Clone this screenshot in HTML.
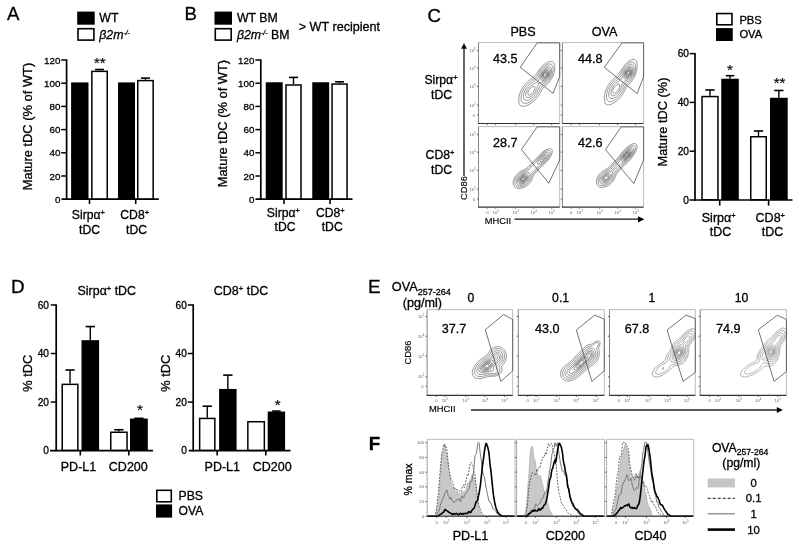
<!DOCTYPE html>
<html><head><meta charset="utf-8"><style>html,body{margin:0;padding:0;background:#fff;width:800px;height:547px;overflow:hidden;position:relative}</style></head>
<body>
<svg width="800" height="547" viewBox="0 0 800 547" style="will-change:transform;position:absolute;left:0;top:0;font-family:&quot;Liberation Sans&quot;, sans-serif">
<rect width="800" height="547" fill="#fff"/>
<text x="7" y="20.4" font-size="18.6" fill="#000" stroke="#000" stroke-width="0.3">A</text>
<rect x="77.20" y="11.60" width="17.50" height="13.10" fill="#000"/>
<rect x="78.00" y="28.70" width="15.90" height="11.40" fill="#fff" stroke="#000" stroke-width="1.6"/>
<text x="99.3" y="21.7" font-size="12.3" fill="#000" stroke="#000" stroke-width="0.3">WT</text>
<text x="99.3" y="38.7" font-size="12.3" fill="#000" stroke="#000" stroke-width="0.3"><tspan font-style="italic">β2m<tspan baseline-shift="4.2" font-size="6.8">-/-</tspan></tspan></text>
<line x1="66.60" y1="59.40" x2="66.60" y2="200.05" stroke="#000" stroke-width="1.7" />
<line x1="61.50" y1="199.20" x2="158.80" y2="199.20" stroke="#000" stroke-width="1.7" />
<text x="60.4" y="202.71" font-size="9.8" text-anchor="end" fill="#000" stroke="#000" stroke-width="0.3">0</text>
<line x1="61.20" y1="176.00" x2="66.60" y2="176.00" stroke="#000" stroke-width="1.5" />
<text x="60.4" y="179.51" font-size="9.8" text-anchor="end" fill="#000" stroke="#000" stroke-width="0.3">20</text>
<line x1="61.20" y1="152.80" x2="66.60" y2="152.80" stroke="#000" stroke-width="1.5" />
<text x="60.4" y="156.31" font-size="9.8" text-anchor="end" fill="#000" stroke="#000" stroke-width="0.3">40</text>
<line x1="61.20" y1="129.60" x2="66.60" y2="129.60" stroke="#000" stroke-width="1.5" />
<text x="60.4" y="133.11" font-size="9.8" text-anchor="end" fill="#000" stroke="#000" stroke-width="0.3">60</text>
<line x1="61.20" y1="106.40" x2="66.60" y2="106.40" stroke="#000" stroke-width="1.5" />
<text x="60.4" y="109.91" font-size="9.8" text-anchor="end" fill="#000" stroke="#000" stroke-width="0.3">80</text>
<line x1="61.20" y1="83.20" x2="66.60" y2="83.20" stroke="#000" stroke-width="1.5" />
<text x="60.4" y="86.71" font-size="9.8" text-anchor="end" fill="#000" stroke="#000" stroke-width="0.3">100</text>
<line x1="61.20" y1="60.00" x2="66.60" y2="60.00" stroke="#000" stroke-width="1.5" />
<text x="60.4" y="63.51" font-size="9.8" text-anchor="end" fill="#000" stroke="#000" stroke-width="0.3">120</text>
<rect x="71.10" y="82.39" width="17.40" height="116.81" fill="#000"/>
<rect x="91.85" y="71.35" width="15.40" height="127.60" fill="#fff" stroke="#000" stroke-width="1.5"/>
<line x1="99.55" y1="70.60" x2="99.55" y2="69.51" stroke="#000" stroke-width="1.4" />
<line x1="95.05" y1="69.51" x2="104.05" y2="69.51" stroke="#000" stroke-width="1.6" />
<rect x="118.00" y="82.39" width="17.00" height="116.81" fill="#000"/>
<rect x="137.75" y="80.59" width="15.40" height="118.36" fill="#fff" stroke="#000" stroke-width="1.5"/>
<line x1="145.45" y1="79.84" x2="145.45" y2="78.10" stroke="#000" stroke-width="1.4" />
<line x1="140.95" y1="78.10" x2="149.95" y2="78.10" stroke="#000" stroke-width="1.6" />
<line x1="89.50" y1="199.20" x2="89.50" y2="204.00" stroke="#000" stroke-width="1.6" />
<line x1="135.70" y1="199.20" x2="135.70" y2="204.00" stroke="#000" stroke-width="1.6" />
<text x="99.8" y="67.6" font-size="15" text-anchor="middle" fill="#000" stroke="#000" stroke-width="0.15">**</text>
<text x="31.6" y="126.5" font-size="12.9" text-anchor="middle" fill="#000" stroke="#000" stroke-width="0.3" transform="rotate(-90 31.6 126.5)">Mature tDC (% of WT)</text>
<text x="88.4" y="219" font-size="12.2" text-anchor="middle" fill="#000" stroke="#000" stroke-width="0.3">Sirpα<tspan baseline-shift="4.2" font-size="7.5">+</tspan></text>
<text x="89.6" y="233.75" font-size="12.2" text-anchor="middle" fill="#000" stroke="#000" stroke-width="0.3">tDC</text>
<text x="134.7" y="219" font-size="12.2" text-anchor="middle" fill="#000" stroke="#000" stroke-width="0.3">CD8<tspan baseline-shift="4.2" font-size="7.5">+</tspan></text>
<text x="136.5" y="233.75" font-size="12.2" text-anchor="middle" fill="#000" stroke="#000" stroke-width="0.3">tDC</text>
<text x="184.5" y="20.3" font-size="18.6" fill="#000" stroke="#000" stroke-width="0.3">B</text>
<rect x="214.50" y="11.60" width="17.50" height="13.10" fill="#000"/>
<rect x="215.30" y="28.70" width="15.90" height="11.40" fill="#fff" stroke="#000" stroke-width="1.6"/>
<text x="237" y="21.7" font-size="12.3" fill="#000" stroke="#000" stroke-width="0.3">WT BM</text>
<text x="237" y="38.7" font-size="12.3" fill="#000" stroke="#000" stroke-width="0.3"><tspan font-style="italic">β2m<tspan baseline-shift="4.2" font-size="6.8">-/-</tspan></tspan> BM</text>
<text x="298.75" y="31.3" font-size="12.6" fill="#000" stroke="#000" stroke-width="0.3">&gt; WT recipient</text>
<line x1="260.80" y1="59.40" x2="260.80" y2="200.05" stroke="#000" stroke-width="1.7" />
<line x1="255.50" y1="199.20" x2="352.50" y2="199.20" stroke="#000" stroke-width="1.7" />
<text x="254.4" y="202.71" font-size="9.8" text-anchor="end" fill="#000" stroke="#000" stroke-width="0.3">0</text>
<line x1="255.40" y1="176.00" x2="260.80" y2="176.00" stroke="#000" stroke-width="1.5" />
<text x="254.4" y="179.51" font-size="9.8" text-anchor="end" fill="#000" stroke="#000" stroke-width="0.3">20</text>
<line x1="255.40" y1="152.80" x2="260.80" y2="152.80" stroke="#000" stroke-width="1.5" />
<text x="254.4" y="156.31" font-size="9.8" text-anchor="end" fill="#000" stroke="#000" stroke-width="0.3">40</text>
<line x1="255.40" y1="129.60" x2="260.80" y2="129.60" stroke="#000" stroke-width="1.5" />
<text x="254.4" y="133.11" font-size="9.8" text-anchor="end" fill="#000" stroke="#000" stroke-width="0.3">60</text>
<line x1="255.40" y1="106.40" x2="260.80" y2="106.40" stroke="#000" stroke-width="1.5" />
<text x="254.4" y="109.91" font-size="9.8" text-anchor="end" fill="#000" stroke="#000" stroke-width="0.3">80</text>
<line x1="255.40" y1="83.20" x2="260.80" y2="83.20" stroke="#000" stroke-width="1.5" />
<text x="254.4" y="86.71" font-size="9.8" text-anchor="end" fill="#000" stroke="#000" stroke-width="0.3">100</text>
<line x1="255.40" y1="60.00" x2="260.80" y2="60.00" stroke="#000" stroke-width="1.5" />
<text x="254.4" y="63.51" font-size="9.8" text-anchor="end" fill="#000" stroke="#000" stroke-width="0.3">120</text>
<rect x="265.75" y="82.27" width="16.95" height="116.93" fill="#000"/>
<rect x="286.00" y="84.99" width="15.00" height="113.96" fill="#fff" stroke="#000" stroke-width="1.5"/>
<line x1="293.50" y1="84.24" x2="293.50" y2="77.40" stroke="#000" stroke-width="1.4" />
<line x1="289.00" y1="77.40" x2="298.00" y2="77.40" stroke="#000" stroke-width="1.6" />
<rect x="312.25" y="82.27" width="16.95" height="116.93" fill="#000"/>
<rect x="332.05" y="84.07" width="15.00" height="114.88" fill="#fff" stroke="#000" stroke-width="1.5"/>
<line x1="339.55" y1="83.32" x2="339.55" y2="81.81" stroke="#000" stroke-width="1.4" />
<line x1="335.05" y1="81.81" x2="344.05" y2="81.81" stroke="#000" stroke-width="1.6" />
<line x1="284.00" y1="199.20" x2="284.00" y2="204.00" stroke="#000" stroke-width="1.6" />
<line x1="330.00" y1="199.20" x2="330.00" y2="204.00" stroke="#000" stroke-width="1.6" />
<text x="226.9" y="123.6" font-size="12.9" text-anchor="middle" fill="#000" stroke="#000" stroke-width="0.3" transform="rotate(-90 226.9 123.6)">Mature tDC (% of WT)</text>
<text x="283.4" y="216.9" font-size="12.2" text-anchor="middle" fill="#000" stroke="#000" stroke-width="0.3">Sirpα<tspan baseline-shift="4.2" font-size="7.5">+</tspan></text>
<text x="285" y="231.25" font-size="12.2" text-anchor="middle" fill="#000" stroke="#000" stroke-width="0.3">tDC</text>
<text x="330.3" y="216.9" font-size="12.2" text-anchor="middle" fill="#000" stroke="#000" stroke-width="0.3">CD8<tspan baseline-shift="4.2" font-size="7.5">+</tspan></text>
<text x="332.2" y="231.25" font-size="12.2" text-anchor="middle" fill="#000" stroke="#000" stroke-width="0.3">tDC</text>
<text x="427.5" y="22" font-size="18.6" fill="#000" stroke="#000" stroke-width="0.3">C</text>
<rect x="716.80" y="13.55" width="15.15" height="11.25" fill="#fff" stroke="#000" stroke-width="1.6"/>
<rect x="716.00" y="28.10" width="16.75" height="12.90" fill="#000"/>
<text x="739.4" y="23.8" font-size="11.2" fill="#000" stroke="#000" stroke-width="0.3">PBS</text>
<text x="739.4" y="38.2" font-size="11.2" fill="#000" stroke="#000" stroke-width="0.3">OVA</text>
<line x1="695.00" y1="53.00" x2="695.00" y2="200.85" stroke="#000" stroke-width="1.7" />
<line x1="689.50" y1="200.00" x2="792.50" y2="200.00" stroke="#000" stroke-width="1.7" />
<text x="689" y="203.65" font-size="10.2" text-anchor="end" fill="#000" stroke="#000" stroke-width="0.3">0</text>
<line x1="689.60" y1="151.20" x2="695.00" y2="151.20" stroke="#000" stroke-width="1.5" />
<text x="689" y="154.85" font-size="10.2" text-anchor="end" fill="#000" stroke="#000" stroke-width="0.3">20</text>
<line x1="689.60" y1="102.40" x2="695.00" y2="102.40" stroke="#000" stroke-width="1.5" />
<text x="689" y="106.05" font-size="10.2" text-anchor="end" fill="#000" stroke="#000" stroke-width="0.3">40</text>
<line x1="689.60" y1="53.60" x2="695.00" y2="53.60" stroke="#000" stroke-width="1.5" />
<text x="689" y="57.25" font-size="10.2" text-anchor="end" fill="#000" stroke="#000" stroke-width="0.3">60</text>
<rect x="702.05" y="96.56" width="15.90" height="103.19" fill="#fff" stroke="#000" stroke-width="1.5"/>
<line x1="710.00" y1="95.81" x2="710.00" y2="90.00" stroke="#000" stroke-width="1.4" />
<line x1="705.35" y1="90.00" x2="714.65" y2="90.00" stroke="#000" stroke-width="1.6" />
<rect x="721.25" y="78.71" width="17.55" height="121.29" fill="#000"/>
<line x1="730.02" y1="78.71" x2="730.02" y2="75.71" stroke="#000" stroke-width="1.4" />
<line x1="725.77" y1="75.71" x2="734.27" y2="75.71" stroke="#000" stroke-width="1.6" />
<rect x="750.75" y="136.75" width="15.50" height="63.00" fill="#fff" stroke="#000" stroke-width="1.5"/>
<line x1="758.50" y1="136.00" x2="758.50" y2="131.00" stroke="#000" stroke-width="1.4" />
<line x1="753.85" y1="131.00" x2="763.15" y2="131.00" stroke="#000" stroke-width="1.6" />
<rect x="770.00" y="97.76" width="17.70" height="102.24" fill="#000"/>
<line x1="778.85" y1="97.76" x2="778.85" y2="90.49" stroke="#000" stroke-width="1.4" />
<line x1="774.20" y1="90.49" x2="783.50" y2="90.49" stroke="#000" stroke-width="1.6" />
<line x1="719.70" y1="200.00" x2="719.70" y2="205.60" stroke="#000" stroke-width="1.6" />
<line x1="768.60" y1="200.00" x2="768.60" y2="205.60" stroke="#000" stroke-width="1.6" />
<text x="730" y="74.8" font-size="15" text-anchor="middle" fill="#000" stroke="#000" stroke-width="0.15">*</text>
<text x="779.5" y="88.4" font-size="15" text-anchor="middle" fill="#000" stroke="#000" stroke-width="0.15">**</text>
<text x="667.1" y="122" font-size="12.8" text-anchor="middle" fill="#000" stroke="#000" stroke-width="0.3" transform="rotate(-90 667.1 122)">Mature tDC (%)</text>
<text x="718.7" y="222" font-size="12.5" text-anchor="middle" fill="#000" stroke="#000" stroke-width="0.3">Sirpα<tspan baseline-shift="4.2" font-size="7.5">+</tspan></text>
<text x="720.5" y="236.3" font-size="12.4" text-anchor="middle" fill="#000" stroke="#000" stroke-width="0.3">tDC</text>
<text x="770.3" y="222" font-size="12.5" text-anchor="middle" fill="#000" stroke="#000" stroke-width="0.3">CD8<tspan baseline-shift="4.2" font-size="7.5">+</tspan></text>
<text x="772.5" y="236.3" font-size="12.4" text-anchor="middle" fill="#000" stroke="#000" stroke-width="0.3">tDC</text>
<text x="11" y="292.5" font-size="18.8" fill="#000" stroke="#000" stroke-width="0.3">D</text>
<text x="106.8" y="294.5" font-size="12.4" text-anchor="middle" fill="#000" stroke="#000" stroke-width="0.3">Sirpα<tspan baseline-shift="4.2" font-size="7.5">+</tspan> tDC</text>
<line x1="56.20" y1="304.38" x2="56.20" y2="451.45" stroke="#000" stroke-width="1.7" />
<line x1="50.00" y1="450.60" x2="153.00" y2="450.60" stroke="#000" stroke-width="1.7" />
<text x="49" y="454.25" font-size="10.2" text-anchor="end" fill="#000" stroke="#000" stroke-width="0.3">0</text>
<line x1="50.80" y1="402.06" x2="56.20" y2="402.06" stroke="#000" stroke-width="1.5" />
<text x="49" y="405.71" font-size="10.2" text-anchor="end" fill="#000" stroke="#000" stroke-width="0.3">20</text>
<line x1="50.80" y1="353.52" x2="56.20" y2="353.52" stroke="#000" stroke-width="1.5" />
<text x="49" y="357.17" font-size="10.2" text-anchor="end" fill="#000" stroke="#000" stroke-width="0.3">40</text>
<line x1="50.80" y1="304.98" x2="56.20" y2="304.98" stroke="#000" stroke-width="1.5" />
<text x="49" y="308.63" font-size="10.2" text-anchor="end" fill="#000" stroke="#000" stroke-width="0.3">60</text>
<rect x="62.25" y="384.36" width="15.60" height="65.99" fill="#fff" stroke="#000" stroke-width="1.5"/>
<line x1="70.05" y1="383.61" x2="70.05" y2="370.02" stroke="#000" stroke-width="1.4" />
<line x1="65.40" y1="370.02" x2="74.70" y2="370.02" stroke="#000" stroke-width="1.6" />
<rect x="81.50" y="340.17" width="17.60" height="110.43" fill="#000"/>
<line x1="90.30" y1="340.17" x2="90.30" y2="326.58" stroke="#000" stroke-width="1.4" />
<line x1="85.65" y1="326.58" x2="94.95" y2="326.58" stroke="#000" stroke-width="1.6" />
<rect x="110.75" y="432.25" width="16.30" height="18.10" fill="#fff" stroke="#000" stroke-width="1.5"/>
<line x1="118.90" y1="431.50" x2="118.90" y2="429.73" stroke="#000" stroke-width="1.4" />
<line x1="114.25" y1="429.73" x2="123.55" y2="429.73" stroke="#000" stroke-width="1.6" />
<rect x="130.00" y="418.56" width="17.80" height="32.04" fill="#000"/>
<line x1="138.90" y1="418.56" x2="138.90" y2="418.32" stroke="#000" stroke-width="1.4" />
<line x1="134.25" y1="418.32" x2="143.55" y2="418.32" stroke="#000" stroke-width="1.6" />
<line x1="80.30" y1="450.60" x2="80.30" y2="455.50" stroke="#000" stroke-width="1.6" />
<line x1="128.80" y1="450.60" x2="128.80" y2="455.50" stroke="#000" stroke-width="1.6" />
<text x="139.9" y="414.8" font-size="15" text-anchor="middle" fill="#000" stroke="#000" stroke-width="0.15">*</text>
<text x="31.8" y="373.3" font-size="12.8" text-anchor="middle" fill="#000" stroke="#000" stroke-width="0.3" transform="rotate(-90 31.8 373.3)">% tDC</text>
<text x="78.5" y="471" font-size="12.5" text-anchor="middle" fill="#000" stroke="#000" stroke-width="0.3">PD-L1</text>
<text x="128.3" y="471" font-size="12.5" text-anchor="middle" fill="#000" stroke="#000" stroke-width="0.3">CD200</text>
<text x="241" y="294.5" font-size="12.5" text-anchor="middle" fill="#000" stroke="#000" stroke-width="0.3">CD8<tspan baseline-shift="4.2" font-size="7.5">+</tspan> tDC</text>
<line x1="193.20" y1="304.38" x2="193.20" y2="451.45" stroke="#000" stroke-width="1.7" />
<line x1="188.75" y1="450.60" x2="290.50" y2="450.60" stroke="#000" stroke-width="1.7" />
<text x="186.9" y="454.25" font-size="10.2" text-anchor="end" fill="#000" stroke="#000" stroke-width="0.3">0</text>
<line x1="187.80" y1="402.06" x2="193.20" y2="402.06" stroke="#000" stroke-width="1.5" />
<text x="186.9" y="405.71" font-size="10.2" text-anchor="end" fill="#000" stroke="#000" stroke-width="0.3">20</text>
<line x1="187.80" y1="353.52" x2="193.20" y2="353.52" stroke="#000" stroke-width="1.5" />
<text x="186.9" y="357.17" font-size="10.2" text-anchor="end" fill="#000" stroke="#000" stroke-width="0.3">40</text>
<line x1="187.80" y1="304.98" x2="193.20" y2="304.98" stroke="#000" stroke-width="1.5" />
<text x="186.9" y="308.63" font-size="10.2" text-anchor="end" fill="#000" stroke="#000" stroke-width="0.3">60</text>
<rect x="199.65" y="418.44" width="15.20" height="31.91" fill="#fff" stroke="#000" stroke-width="1.5"/>
<line x1="207.25" y1="417.69" x2="207.25" y2="406.19" stroke="#000" stroke-width="1.4" />
<line x1="202.60" y1="406.19" x2="211.90" y2="406.19" stroke="#000" stroke-width="1.6" />
<rect x="219.10" y="388.95" width="17.50" height="61.65" fill="#000"/>
<line x1="227.85" y1="388.95" x2="227.85" y2="375.12" stroke="#000" stroke-width="1.4" />
<line x1="223.20" y1="375.12" x2="232.50" y2="375.12" stroke="#000" stroke-width="1.6" />
<rect x="247.85" y="421.74" width="16.50" height="28.61" fill="#fff" stroke="#000" stroke-width="1.5"/>
<rect x="267.70" y="411.53" width="17.40" height="39.07" fill="#000"/>
<line x1="276.40" y1="411.53" x2="276.40" y2="411.04" stroke="#000" stroke-width="1.4" />
<line x1="272.15" y1="411.04" x2="280.65" y2="411.04" stroke="#000" stroke-width="1.6" />
<line x1="217.20" y1="450.60" x2="217.20" y2="455.50" stroke="#000" stroke-width="1.6" />
<line x1="265.80" y1="450.60" x2="265.80" y2="455.50" stroke="#000" stroke-width="1.6" />
<text x="277.7" y="409.9" font-size="15" text-anchor="middle" fill="#000" stroke="#000" stroke-width="0.15">*</text>
<text x="169.8" y="373.3" font-size="12.8" text-anchor="middle" fill="#000" stroke="#000" stroke-width="0.3" transform="rotate(-90 169.8 373.3)">% tDC</text>
<text x="222.3" y="471" font-size="12.5" text-anchor="middle" fill="#000" stroke="#000" stroke-width="0.3">PD-L1</text>
<text x="272.2" y="471" font-size="12.5" text-anchor="middle" fill="#000" stroke="#000" stroke-width="0.3">CD200</text>
<rect x="156.80" y="490.30" width="14.50" height="11.50" fill="#fff" stroke="#000" stroke-width="1.6"/>
<rect x="156.00" y="504.40" width="16.10" height="13.20" fill="#000"/>
<text x="178.6" y="499.9" font-size="12.2" fill="#000" stroke="#000" stroke-width="0.3">PBS</text>
<text x="178.6" y="515.1" font-size="12.2" fill="#000" stroke="#000" stroke-width="0.3">OVA</text>
<polyline points="478.5,42.6 559.7,42.6 559.7,123.5" fill="none" stroke="#aaa" stroke-width="0.8"/>
<line x1="478.50" y1="42.60" x2="478.50" y2="123.90" stroke="#777" stroke-width="0.9" />
<line x1="478.10" y1="123.50" x2="559.70" y2="123.50" stroke="#333" stroke-width="1.2" />
<line x1="476.90" y1="50.60" x2="478.50" y2="50.60" stroke="#555" stroke-width="0.9" />
<text x="475.7" y="52.1" font-size="4.2" text-anchor="end" fill="#666">10<tspan baseline-shift="2" font-size="2.9">5</tspan></text>
<line x1="476.90" y1="68.10" x2="478.50" y2="68.10" stroke="#555" stroke-width="0.9" />
<text x="475.7" y="69.6" font-size="4.2" text-anchor="end" fill="#666">10<tspan baseline-shift="2" font-size="2.9">4</tspan></text>
<line x1="476.90" y1="86.40" x2="478.50" y2="86.40" stroke="#555" stroke-width="0.9" />
<text x="475.7" y="87.9" font-size="4.2" text-anchor="end" fill="#666">10<tspan baseline-shift="2" font-size="2.9">3</tspan></text>
<line x1="476.90" y1="105.10" x2="478.50" y2="105.10" stroke="#555" stroke-width="0.9" />
<text x="475.7" y="106.6" font-size="4.2" text-anchor="end" fill="#666">10<tspan baseline-shift="2" font-size="2.9">2</tspan></text>
<line x1="476.90" y1="115.00" x2="478.50" y2="115.00" stroke="#555" stroke-width="0.9" />
<text x="475.0" y="116.5" font-size="4.2" text-anchor="end" fill="#666">0</text>
<line x1="487.30" y1="123.50" x2="487.30" y2="125.10" stroke="#555" stroke-width="0.9" />
<line x1="495.70" y1="123.50" x2="495.70" y2="125.10" stroke="#555" stroke-width="0.9" />
<line x1="515.70" y1="123.50" x2="515.70" y2="125.10" stroke="#555" stroke-width="0.9" />
<line x1="533.70" y1="123.50" x2="533.70" y2="125.10" stroke="#555" stroke-width="0.9" />
<line x1="551.70" y1="123.50" x2="551.70" y2="125.10" stroke="#555" stroke-width="0.9" />
<polyline points="562.4,42.6 643.6,42.6 643.6,123.5" fill="none" stroke="#aaa" stroke-width="0.8"/>
<line x1="562.40" y1="42.60" x2="562.40" y2="123.90" stroke="#777" stroke-width="0.9" />
<line x1="562.00" y1="123.50" x2="643.60" y2="123.50" stroke="#333" stroke-width="1.2" />
<line x1="560.80" y1="50.60" x2="562.40" y2="50.60" stroke="#555" stroke-width="0.9" />
<line x1="560.80" y1="68.10" x2="562.40" y2="68.10" stroke="#555" stroke-width="0.9" />
<line x1="560.80" y1="86.40" x2="562.40" y2="86.40" stroke="#555" stroke-width="0.9" />
<line x1="560.80" y1="105.10" x2="562.40" y2="105.10" stroke="#555" stroke-width="0.9" />
<line x1="560.80" y1="115.00" x2="562.40" y2="115.00" stroke="#555" stroke-width="0.9" />
<line x1="571.20" y1="123.50" x2="571.20" y2="125.10" stroke="#555" stroke-width="0.9" />
<line x1="579.60" y1="123.50" x2="579.60" y2="125.10" stroke="#555" stroke-width="0.9" />
<line x1="599.60" y1="123.50" x2="599.60" y2="125.10" stroke="#555" stroke-width="0.9" />
<line x1="617.60" y1="123.50" x2="617.60" y2="125.10" stroke="#555" stroke-width="0.9" />
<line x1="635.60" y1="123.50" x2="635.60" y2="125.10" stroke="#555" stroke-width="0.9" />
<polyline points="478.5,126.6 559.7,126.6 559.7,207.1" fill="none" stroke="#aaa" stroke-width="0.8"/>
<line x1="478.50" y1="126.60" x2="478.50" y2="207.50" stroke="#777" stroke-width="0.9" />
<line x1="478.10" y1="207.10" x2="559.70" y2="207.10" stroke="#333" stroke-width="1.2" />
<line x1="476.90" y1="134.60" x2="478.50" y2="134.60" stroke="#555" stroke-width="0.9" />
<text x="475.7" y="136.1" font-size="4.2" text-anchor="end" fill="#666">10<tspan baseline-shift="2" font-size="2.9">5</tspan></text>
<line x1="476.90" y1="152.10" x2="478.50" y2="152.10" stroke="#555" stroke-width="0.9" />
<text x="475.7" y="153.6" font-size="4.2" text-anchor="end" fill="#666">10<tspan baseline-shift="2" font-size="2.9">4</tspan></text>
<line x1="476.90" y1="170.40" x2="478.50" y2="170.40" stroke="#555" stroke-width="0.9" />
<text x="475.7" y="171.9" font-size="4.2" text-anchor="end" fill="#666">10<tspan baseline-shift="2" font-size="2.9">3</tspan></text>
<line x1="476.90" y1="189.10" x2="478.50" y2="189.10" stroke="#555" stroke-width="0.9" />
<text x="475.7" y="190.6" font-size="4.2" text-anchor="end" fill="#666">10<tspan baseline-shift="2" font-size="2.9">2</tspan></text>
<line x1="476.90" y1="199.00" x2="478.50" y2="199.00" stroke="#555" stroke-width="0.9" />
<text x="475.0" y="200.5" font-size="4.2" text-anchor="end" fill="#666">0</text>
<line x1="487.30" y1="207.10" x2="487.30" y2="208.70" stroke="#555" stroke-width="0.9" />
<text x="487.3" y="214.1" font-size="4.2" text-anchor="middle" fill="#666">0</text>
<line x1="495.70" y1="207.10" x2="495.70" y2="208.70" stroke="#555" stroke-width="0.9" />
<text x="495.7" y="214.1" font-size="4.2" text-anchor="middle" fill="#666">10<tspan baseline-shift="2" font-size="2.9">2</tspan></text>
<line x1="515.70" y1="207.10" x2="515.70" y2="208.70" stroke="#555" stroke-width="0.9" />
<text x="515.7" y="214.1" font-size="4.2" text-anchor="middle" fill="#666">10<tspan baseline-shift="2" font-size="2.9">3</tspan></text>
<line x1="533.70" y1="207.10" x2="533.70" y2="208.70" stroke="#555" stroke-width="0.9" />
<text x="533.7" y="214.1" font-size="4.2" text-anchor="middle" fill="#666">10<tspan baseline-shift="2" font-size="2.9">4</tspan></text>
<line x1="551.70" y1="207.10" x2="551.70" y2="208.70" stroke="#555" stroke-width="0.9" />
<text x="551.7" y="214.1" font-size="4.2" text-anchor="middle" fill="#666">10<tspan baseline-shift="2" font-size="2.9">5</tspan></text>
<polyline points="562.4,126.6 643.6,126.6 643.6,207.1" fill="none" stroke="#aaa" stroke-width="0.8"/>
<line x1="562.40" y1="126.60" x2="562.40" y2="207.50" stroke="#777" stroke-width="0.9" />
<line x1="562.00" y1="207.10" x2="643.60" y2="207.10" stroke="#333" stroke-width="1.2" />
<line x1="560.80" y1="134.60" x2="562.40" y2="134.60" stroke="#555" stroke-width="0.9" />
<line x1="560.80" y1="152.10" x2="562.40" y2="152.10" stroke="#555" stroke-width="0.9" />
<line x1="560.80" y1="170.40" x2="562.40" y2="170.40" stroke="#555" stroke-width="0.9" />
<line x1="560.80" y1="189.10" x2="562.40" y2="189.10" stroke="#555" stroke-width="0.9" />
<line x1="560.80" y1="199.00" x2="562.40" y2="199.00" stroke="#555" stroke-width="0.9" />
<line x1="571.20" y1="207.10" x2="571.20" y2="208.70" stroke="#555" stroke-width="0.9" />
<text x="571.2" y="214.1" font-size="4.2" text-anchor="middle" fill="#666">0</text>
<line x1="579.60" y1="207.10" x2="579.60" y2="208.70" stroke="#555" stroke-width="0.9" />
<text x="579.6" y="214.1" font-size="4.2" text-anchor="middle" fill="#666">10<tspan baseline-shift="2" font-size="2.9">2</tspan></text>
<line x1="599.60" y1="207.10" x2="599.60" y2="208.70" stroke="#555" stroke-width="0.9" />
<text x="599.6" y="214.1" font-size="4.2" text-anchor="middle" fill="#666">10<tspan baseline-shift="2" font-size="2.9">3</tspan></text>
<line x1="617.60" y1="207.10" x2="617.60" y2="208.70" stroke="#555" stroke-width="0.9" />
<text x="617.6" y="214.1" font-size="4.2" text-anchor="middle" fill="#666">10<tspan baseline-shift="2" font-size="2.9">4</tspan></text>
<line x1="635.60" y1="207.10" x2="635.60" y2="208.70" stroke="#555" stroke-width="0.9" />
<text x="635.6" y="214.1" font-size="4.2" text-anchor="middle" fill="#666">10<tspan baseline-shift="2" font-size="2.9">5</tspan></text>
<path d="M525.2,106.0 524.0,106.3 522.8,106.4 521.6,106.2 520.4,105.6 519.7,104.8 519.2,103.6 518.9,102.4 518.8,101.2 518.8,100.0 518.8,98.8 518.9,97.6 519.1,96.4 519.4,95.2 519.7,94.0 520.1,92.8 520.5,91.6 521.1,90.4 521.6,89.4 522.1,88.4 522.8,87.3 523.4,86.4 524.3,85.2 525.0,84.4 525.7,83.6 526.4,82.8 527.2,82.1 528.0,81.3 528.8,80.6 529.6,80.0 530.4,79.4 531.6,78.5 532.4,77.9 533.2,77.2 534.0,76.6 534.8,75.8 535.6,74.9 536.4,74.0 537.2,72.9 537.8,72.0 538.4,71.1 539.1,70.0 540.0,68.8 540.8,67.7 541.6,66.8 542.3,66.0 543.1,65.2 544.0,64.4 544.8,63.8 545.7,63.2 546.8,62.6 548.0,62.1 549.2,61.7 550.3,61.6 551.6,61.7 552.6,62.0 553.6,62.8 554.3,64.0 554.6,65.2 554.7,66.4 554.7,67.6 554.7,68.8 554.6,70.0 554.4,71.2 554.1,72.4 553.8,73.6 553.4,74.8 552.9,76.0 552.4,77.2 551.8,78.4 551.2,79.4 550.6,80.4 549.7,81.6 549.0,82.4 548.3,83.2 547.5,84.0 546.6,84.8 545.7,85.6 544.8,86.4 544.0,87.1 543.2,87.9 542.5,88.8 541.8,90.0 541.2,91.0 540.6,92.0 540.0,93.1 539.5,94.0 538.8,95.1 538.2,96.0 537.3,97.2 536.7,98.0 536.0,98.8 535.3,99.6 534.5,100.4 533.6,101.2 532.8,101.9 532.0,102.5 531.1,103.2 530.0,103.9 529.1,104.4 528.0,105.0 526.8,105.5 525.6,105.9Z M526.0,103.2 524.8,103.4 523.7,103.2 522.8,102.8 522.0,102.0 521.4,100.8 521.2,99.6 521.0,98.4 521.1,97.2 521.2,96.1 521.4,94.8 521.7,93.6 522.1,92.4 522.6,91.2 523.2,90.0 523.9,88.8 524.7,87.6 525.5,86.4 526.2,85.6 526.9,84.8 527.6,84.1 528.4,83.3 529.2,82.6 530.0,81.9 530.8,81.3 531.6,80.7 532.5,80.0 533.6,79.2 534.4,78.5 535.2,77.8 536.0,77.0 536.8,76.0 537.6,74.8 538.4,73.6 539.1,72.4 539.8,71.2 540.4,70.3 541.2,69.2 541.9,68.4 542.6,67.6 543.4,66.8 544.3,66.0 545.2,65.3 546.1,64.8 547.2,64.3 548.2,64.0 549.2,63.9 550.3,64.0 551.2,64.4 552.0,65.1 552.5,66.0 552.9,67.2 553.1,68.4 553.1,69.6 553.1,70.8 552.9,72.0 552.6,73.2 552.3,74.4 551.8,75.6 551.3,76.8 550.8,77.7 550.2,78.8 549.6,79.7 548.8,80.7 548.1,81.6 547.3,82.4 546.4,83.2 545.6,83.8 544.4,84.7 543.6,85.3 542.8,86.0 542.0,86.8 541.4,87.6 540.8,88.4 540.1,89.6 539.6,90.5 539.0,91.6 538.4,92.7 537.8,93.6 537.2,94.6 536.5,95.6 535.9,96.4 535.2,97.2 534.5,98.0 533.7,98.8 532.8,99.6 532.0,100.3 530.8,101.1 529.6,101.9 528.6,102.4 527.6,102.8 526.4,103.2Z M528.4,100.0 527.2,100.3 526.0,100.3 525.0,100.0 524.1,99.2 523.6,98.0 523.4,96.8 523.4,95.6 523.6,94.4 523.9,93.2 524.3,92.0 524.8,90.9 525.5,89.6 526.0,88.7 526.8,87.6 527.5,86.8 528.2,86.0 529.0,85.2 529.9,84.4 530.8,83.6 531.6,83.0 532.5,82.4 533.6,81.6 534.7,80.8 535.6,80.1 536.4,79.3 537.2,78.4 538.0,77.2 538.6,76.0 539.2,74.9 539.7,74.0 540.3,72.8 541.0,71.6 541.6,70.8 542.4,69.7 543.2,68.8 544.0,68.0 544.8,67.4 545.7,66.8 546.8,66.3 548.0,66.0 549.2,66.1 550.4,66.8 551.0,67.6 551.5,68.8 551.6,69.8 551.6,71.2 551.5,72.4 551.2,73.6 550.8,74.8 550.4,75.9 550.0,76.8 549.3,78.0 548.5,79.2 547.8,80.0 547.1,80.8 546.2,81.6 545.2,82.3 544.0,83.1 542.8,83.8 541.9,84.4 540.9,85.2 540.2,86.0 539.6,87.0 539.0,88.0 538.4,89.2 537.8,90.4 537.2,91.4 536.6,92.4 536.0,93.4 535.3,94.4 534.7,95.2 534.0,96.0 533.2,96.8 532.4,97.6 531.6,98.2 530.4,99.1 529.4,99.6 528.5,100.0Z M529.2,97.3 528.0,97.6 526.8,97.3 526.0,96.4 525.7,95.2 525.7,94.0 526.0,92.8 526.4,91.6 527.0,90.4 527.6,89.4 528.3,88.4 529.0,87.6 529.8,86.8 530.7,86.0 531.6,85.3 532.8,84.5 534.0,83.8 535.1,83.2 536.4,82.6 537.5,82.0 538.2,81.2 538.7,80.0 539.1,78.8 539.5,77.6 539.9,76.4 540.4,75.2 540.9,74.0 541.6,72.8 542.3,71.6 543.2,70.5 544.0,69.6 544.8,68.9 546.0,68.2 547.2,67.8 548.4,67.9 549.3,68.4 550.0,69.5 550.3,70.8 550.3,72.0 550.1,73.2 549.8,74.4 549.4,75.6 548.8,76.7 548.3,77.6 547.6,78.5 546.8,79.4 546.0,80.2 545.1,80.8 544.0,81.4 542.8,81.9 541.6,82.3 540.4,82.6 539.2,83.1 538.6,84.0 538.0,85.2 537.6,86.4 537.2,87.5 536.8,88.5 536.3,89.6 535.7,90.8 535.2,91.7 534.5,92.8 533.6,94.0 532.9,94.8 532.0,95.6 531.2,96.3 530.0,97.0Z M543.2,80.4 542.1,80.4 541.0,79.6 540.7,78.4 540.8,77.3 541.1,76.0 541.5,74.8 542.0,73.7 542.5,72.8 543.2,71.8 544.0,70.8 544.8,70.1 546.0,69.4 547.2,69.1 548.4,69.5 549.1,70.4 549.3,71.6 549.3,72.8 549.1,74.0 548.7,75.2 548.1,76.4 547.3,77.6 546.6,78.4 545.7,79.2 544.8,79.8 543.6,80.3Z M530.0,94.9 528.8,95.0 528.0,94.4 527.8,93.2 528.0,92.0 528.4,91.0 529.0,90.0 529.6,89.1 530.4,88.3 531.2,87.6 532.4,86.8 533.5,86.4 534.8,86.7 535.0,88.0 534.8,89.0 534.4,90.0 533.8,91.2 533.2,92.2 532.4,93.2 531.6,93.9 530.4,94.7Z M544.8,78.8 543.6,79.2 542.4,78.9 541.9,78.0 541.8,76.8 542.0,75.7 542.4,74.5 542.8,73.6 543.6,72.4 544.3,71.6 545.2,70.8 546.4,70.3 547.6,70.4 548.3,71.2 548.5,72.4 548.5,73.6 548.1,74.8 547.6,75.9 547.0,76.8 546.4,77.6 545.6,78.3Z M544.8,78.0 543.6,78.2 542.8,77.6 542.5,76.4 542.8,75.2 543.2,74.1 544.0,72.8 544.7,72.0 545.6,71.3 546.8,71.1 547.7,72.0 547.9,73.2 547.7,74.4 547.2,75.6 546.4,76.7 545.6,77.5Z M544.8,77.2 543.8,77.2 543.3,76.0 543.5,74.8 544.0,73.7 544.7,72.8 545.6,72.1 546.8,72.2 547.3,73.2 547.1,74.4 546.6,75.6 545.6,76.7Z M544.8,76.4 544.0,75.6 544.2,74.4 544.8,73.5 546.0,72.9 546.6,74.0 546.2,75.2 545.5,76.0Z" fill="none" stroke="#333" stroke-width="0.5"/>
<path d="M609.0,104.9 607.8,104.9 606.6,104.7 605.7,104.0 605.0,102.8 604.7,101.6 604.5,100.4 604.4,99.2 604.3,98.0 604.4,96.8 604.5,95.6 604.7,94.4 604.9,93.2 605.2,92.0 605.6,90.8 606.0,89.6 606.5,88.4 607.0,87.4 607.5,86.4 608.2,85.2 609.0,84.0 609.8,82.9 610.5,82.0 611.1,81.2 611.9,80.4 612.6,79.6 613.4,78.8 614.2,78.1 615.0,77.4 615.8,76.7 616.6,75.9 617.4,75.2 618.1,74.4 618.8,73.6 619.4,72.8 620.2,71.7 620.8,70.8 621.4,69.9 622.1,68.8 622.8,67.6 623.7,66.4 624.3,65.6 624.9,64.8 625.6,64.0 626.4,63.2 627.3,62.4 628.2,61.6 629.4,60.8 630.6,60.2 631.8,59.7 633.0,59.4 634.2,59.4 635.4,59.9 636.2,60.8 636.7,62.0 637.0,63.2 637.1,64.4 637.1,65.6 637.1,66.8 637.0,68.0 636.9,69.2 636.7,70.4 636.5,71.6 636.1,72.8 635.7,74.0 635.3,75.2 634.7,76.4 634.2,77.4 633.7,78.4 633.0,79.4 632.3,80.4 631.7,81.2 631.0,82.0 630.3,82.8 629.5,83.6 628.7,84.4 628.0,85.2 627.3,86.0 626.6,87.0 626.1,88.0 625.4,89.2 624.8,90.4 624.2,91.6 623.5,92.8 623.0,93.7 622.3,94.8 621.4,96.0 620.8,96.8 620.1,97.6 619.4,98.4 618.6,99.2 617.8,100.0 617.0,100.7 616.2,101.3 615.2,102.0 614.2,102.7 613.3,103.2 612.2,103.8 611.0,104.3 609.8,104.7Z M611.0,101.6 609.8,101.7 608.6,101.4 607.8,100.8 607.0,99.6 606.7,98.4 606.5,97.2 606.5,96.0 606.6,94.8 606.7,93.6 607.0,92.4 607.3,91.2 607.7,90.0 608.2,88.8 608.7,87.6 609.4,86.4 610.2,85.2 611.0,84.0 611.6,83.2 612.3,82.4 613.0,81.6 613.8,80.8 614.6,80.0 615.4,79.3 616.2,78.6 617.0,77.9 617.8,77.1 618.6,76.3 619.4,75.4 620.1,74.4 620.9,73.2 621.6,72.0 622.2,71.0 622.8,70.0 623.4,69.0 624.0,68.0 624.9,66.8 625.6,66.0 626.3,65.2 627.1,64.4 628.1,63.6 629.0,63.0 630.2,62.4 631.4,62.1 632.6,62.0 633.7,62.4 634.5,63.2 635.2,64.4 635.5,65.6 635.6,66.8 635.7,68.0 635.6,69.2 635.5,70.4 635.2,71.6 634.9,72.8 634.5,74.0 634.0,75.2 633.5,76.4 632.8,77.6 632.2,78.5 631.4,79.6 630.8,80.4 630.0,81.2 629.2,82.0 628.3,82.8 627.4,83.6 626.6,84.4 625.9,85.2 625.1,86.4 624.6,87.3 624.1,88.4 623.5,89.6 623.0,90.5 622.4,91.6 621.8,92.6 621.2,93.6 620.3,94.8 619.7,95.6 619.0,96.4 618.2,97.2 617.4,98.0 616.6,98.7 615.8,99.3 614.8,100.0 613.8,100.6 612.6,101.1 611.4,101.5Z M613.0,98.4 611.8,98.6 610.6,98.4 609.5,97.6 609.0,96.6 608.7,95.2 608.7,94.0 608.8,92.8 609.1,91.6 609.4,90.6 609.7,89.6 610.2,88.5 610.7,87.6 611.4,86.4 612.2,85.2 612.8,84.4 613.5,83.6 614.2,82.9 615.0,82.1 615.8,81.3 616.6,80.6 617.4,79.9 618.2,79.2 619.0,78.5 619.8,77.7 620.5,76.8 621.3,75.6 621.8,74.6 622.3,73.6 622.9,72.4 623.4,71.4 624.0,70.4 624.6,69.4 625.2,68.4 625.9,67.6 626.6,66.8 627.4,66.0 628.2,65.4 629.1,64.8 630.1,64.4 631.4,64.2 632.6,64.6 633.4,65.4 633.9,66.4 634.2,67.6 634.3,68.8 634.2,70.0 634.1,71.2 633.8,72.4 633.4,73.6 633.0,74.7 632.6,75.6 631.9,76.8 631.1,78.0 630.5,78.8 629.8,79.6 629.0,80.3 628.2,81.0 627.4,81.6 626.2,82.4 625.4,83.1 624.6,84.0 624.0,84.8 623.4,86.0 622.8,87.2 622.3,88.4 621.8,89.3 621.2,90.4 620.6,91.5 620.0,92.4 619.4,93.3 618.6,94.3 617.8,95.2 617.0,95.9 616.2,96.6 615.0,97.5 614.0,98.0 613.0,98.4Z M613.8,95.6 612.6,95.7 611.6,95.2 611.0,94.0 610.9,92.8 611.0,91.6 611.3,90.4 611.7,89.2 612.2,88.2 612.8,87.2 613.4,86.3 614.2,85.3 615.0,84.4 615.8,83.6 616.6,82.9 617.4,82.3 618.4,81.6 619.4,80.9 620.6,80.0 621.4,79.2 622.0,78.0 622.5,76.8 622.9,75.6 623.3,74.4 623.8,73.2 624.2,72.3 624.7,71.2 625.4,70.1 626.0,69.2 626.7,68.4 627.4,67.6 628.2,67.0 629.2,66.4 630.6,66.1 631.6,66.4 632.4,67.2 632.9,68.4 633.0,69.6 633.0,70.7 632.8,72.0 632.5,73.2 632.0,74.4 631.4,75.6 630.7,76.8 630.1,77.6 629.3,78.4 628.4,79.2 627.4,79.9 626.4,80.4 625.5,80.8 624.2,81.4 623.4,82.0 622.8,82.8 622.2,84.0 621.8,85.2 621.4,86.3 621.0,87.3 620.6,88.2 620.1,89.2 619.5,90.4 618.7,91.6 618.1,92.4 617.4,93.2 616.6,94.0 615.8,94.6 614.9,95.2 613.9,95.6Z M627.0,78.8 625.8,79.1 624.6,78.9 624.0,78.0 623.9,76.8 624.0,75.6 624.3,74.4 624.7,73.2 625.2,72.0 625.8,70.9 626.4,70.0 627.1,69.2 627.8,68.5 629.0,67.7 630.2,67.5 631.3,68.0 632.0,69.2 632.1,70.4 632.0,71.6 631.8,72.7 631.4,73.9 630.8,75.2 630.2,76.1 629.4,77.1 628.6,77.8 627.4,78.6Z M615.4,92.8 614.2,93.2 613.2,92.8 612.8,91.6 612.9,90.4 613.3,89.2 613.8,88.2 614.5,87.2 615.1,86.4 615.9,85.6 616.9,84.8 617.8,84.3 619.0,84.0 619.7,84.8 619.7,86.0 619.4,87.2 619.0,88.3 618.4,89.6 617.8,90.5 617.0,91.5 616.2,92.2Z M627.0,77.7 625.8,77.7 625.1,76.8 624.9,75.6 625.1,74.4 625.4,73.3 625.8,72.3 626.4,71.2 627.0,70.4 627.7,69.6 628.6,68.9 629.8,68.6 630.9,69.2 631.3,70.4 631.3,71.6 631.1,72.8 630.7,74.0 630.2,74.9 629.4,76.0 628.7,76.8 627.8,77.4Z M627.0,76.8 626.0,76.4 625.7,75.2 625.8,74.0 626.2,72.8 626.6,71.9 627.3,70.8 628.2,70.0 629.4,69.5 630.4,70.0 630.7,71.2 630.7,72.4 630.3,73.6 629.8,74.6 629.1,75.6 628.2,76.3 627.0,76.8Z M627.8,75.8 626.7,75.6 626.3,74.4 626.6,73.2 627.0,72.2 627.7,71.2 628.6,70.6 629.8,70.7 630.1,72.0 629.9,73.2 629.4,74.3 628.6,75.2 627.8,75.8Z M627.8,74.9 627.0,74.0 627.3,72.8 628.2,71.6 629.4,71.6 629.5,72.8 629.0,73.9 628.2,74.8Z" fill="none" stroke="#333" stroke-width="0.5"/>
<path d="M521.6,188.2 520.4,188.4 519.2,188.5 518.0,188.4 516.9,188.2 516.0,187.8 514.8,187.0 514.2,186.2 513.6,185.1 513.2,183.8 513.1,182.6 513.2,181.4 513.5,180.2 513.8,179.0 514.4,177.8 515.1,176.6 515.9,175.4 516.6,174.6 517.4,173.8 518.2,173.0 519.2,172.2 520.4,171.4 521.6,170.8 522.8,170.2 523.7,169.8 524.8,169.3 526.0,168.6 526.8,168.0 527.6,167.3 528.4,166.4 529.2,165.6 530.0,164.8 530.8,163.9 531.6,163.1 532.4,162.3 533.2,161.5 534.0,160.7 534.8,159.9 535.6,159.1 536.4,158.3 537.2,157.4 537.9,156.6 538.7,155.8 539.4,155.0 540.2,154.2 541.1,153.4 542.0,152.6 542.8,151.9 544.0,151.1 545.2,150.3 546.1,149.8 547.2,149.3 548.4,148.9 549.6,148.7 550.8,148.8 551.7,149.4 552.3,150.6 552.3,151.8 552.1,153.0 551.7,154.2 551.2,155.4 550.6,156.6 550.0,157.5 549.3,158.6 548.4,159.8 547.7,160.6 547.0,161.4 546.2,162.2 545.4,163.0 544.6,163.8 543.7,164.6 542.8,165.4 542.0,166.1 541.2,166.8 540.4,167.6 539.6,168.4 538.8,169.2 538.0,170.1 537.2,171.0 536.4,171.8 535.7,172.6 535.0,173.4 534.4,174.2 533.6,175.4 533.2,176.4 532.8,177.4 532.4,178.5 532.0,179.4 531.4,180.6 530.8,181.6 530.1,182.6 529.4,183.4 528.6,184.2 527.8,185.0 526.8,185.8 525.6,186.6 524.4,187.2 523.2,187.7 522.0,188.1Z M522.0,186.7 520.8,186.9 519.6,187.0 518.4,186.9 517.2,186.4 516.3,185.8 515.6,185.0 515.0,183.8 514.7,182.6 514.7,181.4 514.9,180.2 515.3,179.0 515.9,177.8 516.4,176.9 517.2,175.8 517.9,175.0 518.7,174.2 519.6,173.5 520.8,172.6 522.0,172.0 523.2,171.4 524.2,171.0 525.2,170.5 526.4,169.9 527.2,169.2 528.0,168.5 528.7,167.8 529.5,167.0 530.2,166.2 531.0,165.4 531.7,164.6 532.5,163.8 533.3,163.0 534.1,162.2 534.9,161.4 535.7,160.6 536.4,159.8 537.1,159.0 537.8,158.2 538.5,157.4 539.2,156.6 539.9,155.8 540.7,155.0 541.5,154.2 542.4,153.5 543.2,152.8 544.1,152.2 545.2,151.5 546.2,151.0 547.2,150.6 548.4,150.4 549.6,150.6 550.4,151.2 550.7,152.2 550.7,153.4 550.4,154.4 550.0,155.4 549.4,156.6 548.8,157.7 548.2,158.6 547.6,159.4 546.9,160.2 546.2,161.0 545.4,161.8 544.6,162.6 543.7,163.4 542.8,164.1 542.0,164.8 541.2,165.4 540.4,166.1 539.6,166.8 538.8,167.6 538.0,168.4 537.2,169.3 536.4,170.2 535.6,171.0 534.9,171.8 534.2,172.6 533.5,173.4 532.9,174.2 532.2,175.4 531.7,176.6 531.2,177.8 530.8,178.9 530.4,179.8 529.7,181.0 528.8,182.2 528.1,183.0 527.3,183.8 526.4,184.5 525.2,185.3 524.0,186.0 522.8,186.5Z M521.2,185.4 520.0,185.5 518.8,185.2 517.7,184.6 516.9,183.8 516.4,182.6 516.3,181.4 516.4,180.3 516.8,179.0 517.4,177.8 518.0,176.8 518.8,175.8 519.6,175.1 520.4,174.4 521.3,173.8 522.4,173.2 523.6,172.6 524.7,172.2 525.7,171.8 526.8,171.2 527.8,170.6 528.7,169.8 529.4,169.0 530.2,168.2 530.9,167.4 531.6,166.7 532.4,165.8 533.2,165.0 534.0,164.2 534.8,163.4 535.6,162.6 536.3,161.8 536.9,161.0 537.5,160.2 538.1,159.4 538.7,158.6 539.4,157.8 540.1,157.0 540.8,156.2 541.6,155.4 542.4,154.7 543.2,154.0 544.1,153.4 545.2,152.8 546.4,152.3 547.6,152.1 548.7,152.6 549.1,153.8 548.9,155.0 548.4,156.2 547.8,157.4 547.2,158.3 546.4,159.4 545.7,160.2 544.9,161.0 544.1,161.8 543.2,162.5 542.4,163.2 541.5,163.8 540.4,164.6 539.3,165.4 538.4,166.2 537.6,166.9 536.8,167.7 536.0,168.6 535.3,169.4 534.5,170.2 533.8,171.0 533.0,171.8 532.3,172.6 531.7,173.4 531.0,174.6 530.5,175.8 530.1,177.0 529.7,178.2 529.2,179.3 528.7,180.2 528.0,181.2 527.2,182.2 526.4,182.9 525.6,183.6 524.7,184.2 523.6,184.8 522.4,185.2 521.4,185.4Z M538.8,163.8 537.6,164.0 537.6,162.8 538.0,161.9 538.7,160.6 539.2,159.7 539.9,158.6 540.5,157.8 541.2,157.0 542.0,156.2 542.8,155.5 543.6,154.9 544.8,154.2 545.9,153.8 547.2,154.1 547.5,155.4 547.2,156.4 546.7,157.4 546.0,158.5 545.3,159.4 544.5,160.2 543.6,161.0 542.8,161.7 541.6,162.5 540.7,163.0 539.6,163.5Z M522.8,183.8 521.6,184.1 520.4,184.1 519.4,183.8 518.4,183.1 517.8,181.8 517.7,180.6 517.9,179.4 518.4,178.3 518.9,177.4 519.6,176.6 520.4,175.8 521.2,175.2 522.1,174.6 523.2,174.0 524.4,173.6 525.6,173.2 526.8,172.9 528.0,172.6 529.1,172.6 529.3,173.8 529.2,175.0 528.9,176.2 528.6,177.4 528.2,178.6 527.6,179.8 526.8,181.0 526.1,181.8 525.2,182.5 524.0,183.3 522.8,183.8Z M541.2,161.5 540.0,161.4 540.0,160.4 540.4,159.4 541.2,158.2 541.9,157.4 542.7,156.6 543.6,155.9 544.8,155.3 546.0,155.4 546.1,156.6 545.6,157.7 545.0,158.6 544.3,159.4 543.4,160.2 542.4,161.0 541.2,161.5Z M522.0,183.1 520.8,183.1 519.7,182.6 519.0,181.8 518.7,180.6 518.9,179.4 519.4,178.2 520.3,177.0 521.2,176.2 522.0,175.6 523.1,175.0 524.2,174.6 525.6,174.3 526.8,174.4 527.6,175.1 527.8,176.2 527.6,177.4 527.3,178.6 526.8,179.6 526.1,180.6 525.3,181.4 524.4,182.1 523.5,182.6 522.4,183.0Z M542.0,159.9 542.0,158.6 542.6,157.8 543.5,157.0 544.7,157.0 544.4,158.0 543.6,159.0 542.8,159.6Z M522.4,182.2 521.2,182.2 520.0,181.5 519.6,180.2 519.9,179.0 520.4,178.0 521.2,177.1 522.0,176.4 523.1,175.8 524.3,175.4 525.6,175.3 526.7,176.2 526.8,177.2 526.6,178.2 526.1,179.4 525.2,180.6 524.4,181.3 523.5,181.8 522.4,182.2Z M522.8,181.5 521.6,181.6 520.7,181.0 520.3,179.8 520.7,178.6 521.6,177.4 522.4,176.8 523.6,176.2 524.8,176.1 525.8,176.6 526.0,177.8 525.7,179.0 524.8,180.2 524.0,180.9 523.0,181.4Z M523.2,180.7 522.0,180.9 521.1,180.2 521.2,179.0 522.0,177.8 522.8,177.2 524.0,176.8 525.2,177.3 525.2,178.6 524.5,179.8 523.6,180.5Z M522.8,180.2 521.8,179.8 522.0,178.6 522.8,177.8 524.0,177.5 524.5,178.6 524.0,179.5 522.9,180.2Z" fill="none" stroke="#333" stroke-width="0.5"/>
<path d="M601.8,187.4 600.6,187.3 599.4,187.0 598.2,186.3 597.4,185.4 596.9,184.2 596.6,183.2 596.5,181.8 596.5,180.6 596.7,179.4 597.1,178.2 597.6,177.0 598.2,175.9 598.8,175.0 599.4,174.2 600.1,173.4 600.9,172.6 601.8,171.8 602.6,171.2 603.5,170.6 604.6,169.9 605.7,169.4 606.6,168.9 607.8,168.2 608.9,167.4 609.8,166.6 610.5,165.8 611.2,165.0 612.0,164.2 612.7,163.4 613.4,162.6 614.2,161.8 614.9,161.0 615.6,160.2 616.4,159.4 617.1,158.6 617.8,157.8 618.4,157.0 619.0,156.2 619.7,155.4 620.3,154.6 620.9,153.8 621.5,153.0 622.2,152.2 622.9,151.4 623.6,150.6 624.4,149.8 625.2,149.0 626.0,148.2 626.9,147.4 627.8,146.7 628.6,146.1 629.6,145.4 630.6,144.8 631.8,144.2 633.0,143.8 634.2,143.6 635.4,143.7 636.3,144.2 636.9,145.4 637.1,146.6 636.9,147.8 636.6,149.0 636.2,150.2 635.8,151.2 635.3,152.2 634.7,153.4 634.0,154.6 633.4,155.5 632.6,156.6 631.8,157.7 631.1,158.6 630.4,159.4 629.7,160.2 628.9,161.0 628.2,161.7 627.4,162.5 626.6,163.3 625.8,164.0 625.0,164.7 624.2,165.5 623.5,166.2 622.7,167.0 621.9,167.8 621.2,168.6 620.4,169.4 619.7,170.2 619.0,171.0 618.3,171.8 617.6,172.6 617.0,173.4 616.3,174.6 615.8,175.7 615.4,176.6 615.0,177.7 614.4,179.0 613.8,180.1 613.2,181.0 612.6,181.8 611.9,182.6 611.1,183.4 610.2,184.2 609.4,184.8 608.5,185.4 607.4,186.0 606.2,186.5 605.0,186.9 603.8,187.2 602.6,187.4Z M602.6,185.8 601.4,185.7 600.2,185.3 599.3,184.6 598.7,183.8 598.3,182.6 598.1,181.4 598.1,180.2 598.3,179.0 598.8,177.8 599.3,176.6 600.1,175.4 600.7,174.6 601.5,173.8 602.3,173.0 603.4,172.2 604.6,171.4 605.8,170.8 606.9,170.2 607.8,169.7 608.8,169.0 609.8,168.2 610.6,167.4 611.3,166.6 612.0,165.8 612.7,165.0 613.4,164.3 614.2,163.4 614.9,162.6 615.7,161.8 616.4,161.0 617.1,160.2 617.8,159.4 618.4,158.6 619.0,157.8 619.8,156.8 620.5,155.8 621.4,154.6 622.0,153.8 622.7,153.0 623.3,152.2 624.1,151.4 624.8,150.6 625.6,149.8 626.5,149.0 627.4,148.2 628.2,147.6 629.1,147.0 630.2,146.3 631.4,145.8 632.6,145.5 633.8,145.4 635.0,146.2 635.4,147.3 635.4,148.4 635.1,149.8 634.8,151.0 634.2,152.2 633.6,153.4 633.0,154.5 632.4,155.4 631.8,156.2 631.0,157.3 630.3,158.2 629.6,159.0 628.9,159.8 628.1,160.6 627.3,161.4 626.4,162.2 625.5,163.0 624.6,163.8 623.8,164.5 623.0,165.2 622.2,166.0 621.4,166.8 620.6,167.6 619.8,168.5 619.0,169.3 618.2,170.2 617.5,171.0 616.8,171.8 616.1,172.6 615.4,173.6 614.8,174.6 614.3,175.8 613.8,177.0 613.4,178.0 612.9,179.0 612.2,180.2 611.6,181.0 610.9,181.8 610.2,182.5 609.4,183.2 608.6,183.8 607.4,184.5 606.4,185.0 605.4,185.4 604.2,185.7 603.0,185.8Z M605.4,183.9 604.2,184.1 603.0,184.2 601.8,183.9 600.6,183.1 600.0,182.2 599.7,181.0 599.7,179.8 600.0,178.6 600.5,177.4 601.0,176.4 601.8,175.4 602.5,174.6 603.4,173.8 604.2,173.2 605.1,172.6 606.2,172.0 607.4,171.4 608.6,170.8 609.5,170.2 610.4,169.4 611.2,168.6 612.0,167.8 612.7,167.0 613.3,166.2 614.0,165.4 614.8,164.6 615.5,163.8 616.2,163.0 617.0,162.2 617.7,161.4 618.3,160.6 618.9,159.8 619.8,158.6 620.6,157.4 621.4,156.2 622.2,155.0 622.8,154.2 623.5,153.4 624.1,152.6 624.9,151.8 625.6,151.0 626.5,150.2 627.4,149.4 628.2,148.8 629.2,148.2 630.2,147.7 631.4,147.3 632.6,147.3 633.6,148.2 633.8,149.4 633.6,150.6 633.3,151.8 632.7,153.0 632.2,154.0 631.6,155.0 631.0,155.9 630.2,156.9 629.5,157.8 628.8,158.6 628.0,159.4 627.2,160.2 626.3,161.0 625.4,161.8 624.6,162.4 623.8,163.1 623.0,163.7 622.2,164.4 621.4,165.1 620.6,165.8 619.8,166.6 619.1,167.4 618.4,168.2 617.6,169.0 616.9,169.8 616.1,170.6 615.4,171.4 614.7,172.2 613.9,173.4 613.4,174.4 613.0,175.3 612.6,176.4 612.2,177.4 611.6,178.6 611.0,179.6 610.3,180.6 609.5,181.4 608.6,182.2 607.4,183.0 606.2,183.6Z M605.0,182.6 603.8,182.7 602.6,182.4 601.8,181.7 601.3,180.6 601.2,179.4 601.5,178.2 602.1,177.0 602.9,175.8 603.7,175.0 604.6,174.3 605.8,173.5 606.9,173.0 607.8,172.6 608.8,172.2 609.8,171.8 611.0,171.2 611.9,170.6 612.7,169.8 613.3,169.0 614.2,167.8 614.9,167.0 615.5,166.2 616.2,165.4 617.0,164.6 617.7,163.8 618.3,163.0 619.0,162.0 619.6,161.0 620.2,160.0 620.7,159.0 621.4,157.8 622.1,156.6 622.9,155.4 623.8,154.2 624.5,153.4 625.2,152.6 626.0,151.8 626.8,151.0 627.8,150.2 629.0,149.5 630.1,149.0 631.4,148.9 632.2,149.5 632.4,150.6 632.2,151.7 631.8,152.8 631.3,153.8 630.6,155.0 629.8,156.2 629.2,157.0 628.5,157.8 627.7,158.6 626.9,159.4 625.9,160.2 625.0,160.9 623.8,161.8 622.6,162.5 621.4,163.3 620.2,164.1 619.4,164.8 618.6,165.6 617.8,166.4 617.0,167.3 616.2,168.1 615.4,168.9 614.6,169.6 613.8,170.4 613.0,171.4 612.4,172.6 612.0,173.8 611.7,175.0 611.3,176.2 610.9,177.4 610.3,178.6 609.4,179.8 608.7,180.6 607.8,181.4 606.6,182.1 605.4,182.5Z M623.0,161.1 621.8,161.3 621.4,160.2 621.7,159.0 622.2,157.9 622.7,157.0 623.4,155.8 624.2,154.6 624.9,153.8 625.6,153.0 626.4,152.2 627.3,151.4 628.2,150.8 629.4,150.2 630.6,150.1 631.3,151.0 631.2,152.2 630.8,153.4 630.2,154.5 629.7,155.4 629.0,156.3 628.2,157.2 627.4,158.1 626.6,158.8 625.8,159.5 624.7,160.2 623.8,160.7Z M605.4,181.5 604.2,181.6 603.0,181.0 602.4,179.8 602.5,178.6 602.9,177.4 603.8,176.2 604.6,175.4 605.8,174.6 607.0,174.0 608.2,173.6 609.4,173.6 610.2,174.2 610.4,175.4 610.1,176.6 609.7,177.8 609.0,178.9 608.3,179.8 607.4,180.5 606.2,181.2Z M623.4,159.8 622.7,159.0 623.0,157.8 623.4,156.9 624.0,155.8 624.6,154.9 625.4,153.9 626.2,153.1 627.0,152.4 628.2,151.5 629.4,151.1 630.4,151.8 630.3,153.0 629.8,154.2 629.1,155.4 628.2,156.5 627.4,157.4 626.6,158.1 625.8,158.8 624.8,159.4 623.8,159.8Z M606.2,180.3 605.0,180.6 603.9,180.2 603.4,179.0 603.7,177.8 604.5,176.6 605.4,175.8 606.6,175.1 607.8,174.8 609.0,175.3 609.1,176.6 608.7,177.8 608.2,178.7 607.4,179.5 606.4,180.2Z M625.0,158.6 623.8,158.7 623.7,157.4 624.2,156.3 624.8,155.4 625.4,154.5 626.2,153.6 627.0,152.9 628.1,152.2 629.4,152.1 629.6,153.4 629.1,154.6 628.3,155.8 627.6,156.6 626.8,157.4 625.8,158.2Z M606.2,179.4 605.0,179.5 604.4,178.6 604.8,177.4 605.5,176.6 606.6,176.0 607.8,176.0 608.1,177.0 607.8,177.9 607.0,178.9Z M625.0,157.9 624.5,157.0 625.0,155.8 625.8,154.6 626.6,153.8 627.4,153.2 628.6,152.8 628.9,153.8 628.4,155.0 627.5,156.2 626.6,157.0 625.8,157.6Z M626.2,156.8 625.3,156.2 625.8,155.3 626.6,154.3 627.4,153.7 628.1,154.6 627.4,155.7 626.6,156.5Z" fill="none" stroke="#333" stroke-width="0.5"/>
<path d="M520.2,67.3 L537.2,42.9 L559.7,42.9 L559.7,76.6 L553.1,93.3Z" fill="none" stroke="#444" stroke-width="0.75"/>
<path d="M604.3,67.3 L622.0,42.9 L643.6,42.9 L643.6,76.6 L637.2,93.6Z" fill="none" stroke="#444" stroke-width="0.75"/>
<path d="M521.4,149.6 L537.1,126.9 L559.7,126.9 L559.7,160.0 L548.8,183.2Z" fill="none" stroke="#444" stroke-width="0.75"/>
<path d="M605.5,149.6 L621.2,126.9 L643.6,126.9 L643.6,160.0 L633.8,183.6Z" fill="none" stroke="#444" stroke-width="0.75"/>
<text x="505.3" y="62.5" font-size="12.6" text-anchor="middle" fill="#000" stroke="#000" stroke-width="0.3">43.5</text>
<text x="590.3" y="62.5" font-size="12.6" text-anchor="middle" fill="#000" stroke="#000" stroke-width="0.3">44.8</text>
<text x="505.3" y="147" font-size="12.6" text-anchor="middle" fill="#000" stroke="#000" stroke-width="0.3">28.7</text>
<text x="590.3" y="147" font-size="12.6" text-anchor="middle" fill="#000" stroke="#000" stroke-width="0.3">42.6</text>
<text x="523" y="36" font-size="12.6" text-anchor="middle" fill="#000" stroke="#000" stroke-width="0.3">PBS</text>
<text x="604.5" y="36" font-size="12.6" text-anchor="middle" fill="#000" stroke="#000" stroke-width="0.3">OVA</text>
<text x="441" y="84" font-size="12.2" text-anchor="middle" fill="#000" stroke="#000" stroke-width="0.3">Sirpα<tspan baseline-shift="4.2" font-size="7.5">+</tspan></text>
<text x="441.5" y="99" font-size="12.2" text-anchor="middle" fill="#000" stroke="#000" stroke-width="0.3">tDC</text>
<text x="440" y="159" font-size="12.2" text-anchor="middle" fill="#000" stroke="#000" stroke-width="0.3">CD8<tspan baseline-shift="4.2" font-size="7.5">+</tspan></text>
<text x="441.5" y="174" font-size="12.2" text-anchor="middle" fill="#000" stroke="#000" stroke-width="0.3">tDC</text>
<line x1="464.00" y1="48.00" x2="464.00" y2="176.00" stroke="#555" stroke-width="1.8" />
<path d="M461,48.7 L467,48.7 L464,43.1 Z" fill="#111"/>
<text x="467.3" y="188" font-size="9.3" text-anchor="middle" fill="#000" stroke="#000" stroke-width="0.15" transform="rotate(-90 467.3 188)">CD86</text>
<text x="498" y="224" font-size="9.3" text-anchor="middle" fill="#000" stroke="#000" stroke-width="0.15">MHCII</text>
<line x1="514.50" y1="219.20" x2="639.00" y2="219.20" stroke="#111" stroke-width="1.3" />
<path d="M638,216.2 L644.4,219.2 L638,222.4 Z" fill="#000"/>
<text x="367.9" y="293.2" font-size="18.8" fill="#000" stroke="#000" stroke-width="0.3">E</text>
<text x="391.8" y="290.5" font-size="12.7" fill="#000" stroke="#000" stroke-width="0.3">OVA<tspan baseline-shift="-3.5" font-size="9">257-264</tspan></text>
<text x="422.4" y="307" font-size="12.6" text-anchor="middle" fill="#000" stroke="#000" stroke-width="0.3">(pg/ml)</text>
<polyline points="427.1,309.6 512.7,309.6 512.7,395.4" fill="none" stroke="#aaa" stroke-width="0.8"/>
<line x1="427.10" y1="309.60" x2="427.10" y2="395.80" stroke="#777" stroke-width="0.9" />
<line x1="426.70" y1="395.40" x2="512.70" y2="395.40" stroke="#333" stroke-width="1.2" />
<line x1="425.50" y1="316.50" x2="427.10" y2="316.50" stroke="#555" stroke-width="0.9" />
<text x="424.3" y="318.0" font-size="4.2" text-anchor="end" fill="#666">10<tspan baseline-shift="2" font-size="2.9">5</tspan></text>
<line x1="425.50" y1="336.20" x2="427.10" y2="336.20" stroke="#555" stroke-width="0.9" />
<text x="424.3" y="337.7" font-size="4.2" text-anchor="end" fill="#666">10<tspan baseline-shift="2" font-size="2.9">4</tspan></text>
<line x1="425.50" y1="356.00" x2="427.10" y2="356.00" stroke="#555" stroke-width="0.9" />
<text x="424.3" y="357.5" font-size="4.2" text-anchor="end" fill="#666">10<tspan baseline-shift="2" font-size="2.9">3</tspan></text>
<line x1="425.50" y1="376.80" x2="427.10" y2="376.80" stroke="#555" stroke-width="0.9" />
<text x="424.3" y="378.3" font-size="4.2" text-anchor="end" fill="#666">10<tspan baseline-shift="2" font-size="2.9">2</tspan></text>
<line x1="425.50" y1="386.30" x2="427.10" y2="386.30" stroke="#555" stroke-width="0.9" />
<text x="423.6" y="387.8" font-size="4.2" text-anchor="end" fill="#666">0</text>
<line x1="436.50" y1="395.40" x2="436.50" y2="397.00" stroke="#555" stroke-width="0.9" />
<text x="436.5" y="402.4" font-size="4.2" text-anchor="middle" fill="#666">0</text>
<line x1="444.90" y1="395.40" x2="444.90" y2="397.00" stroke="#555" stroke-width="0.9" />
<text x="444.9" y="402.4" font-size="4.2" text-anchor="middle" fill="#666">10<tspan baseline-shift="2" font-size="2.9">2</tspan></text>
<line x1="465.70" y1="395.40" x2="465.70" y2="397.00" stroke="#555" stroke-width="0.9" />
<text x="465.7" y="402.4" font-size="4.2" text-anchor="middle" fill="#666">10<tspan baseline-shift="2" font-size="2.9">3</tspan></text>
<line x1="485.10" y1="395.40" x2="485.10" y2="397.00" stroke="#555" stroke-width="0.9" />
<text x="485.1" y="402.4" font-size="4.2" text-anchor="middle" fill="#666">10<tspan baseline-shift="2" font-size="2.9">4</tspan></text>
<line x1="504.60" y1="395.40" x2="504.60" y2="397.00" stroke="#555" stroke-width="0.9" />
<text x="504.6" y="402.4" font-size="4.2" text-anchor="middle" fill="#666">10<tspan baseline-shift="2" font-size="2.9">5</tspan></text>
<polyline points="518.3,309.6 604.3,309.6 604.3,395.4" fill="none" stroke="#aaa" stroke-width="0.8"/>
<line x1="518.30" y1="309.60" x2="518.30" y2="395.80" stroke="#777" stroke-width="0.9" />
<line x1="517.90" y1="395.40" x2="604.30" y2="395.40" stroke="#333" stroke-width="1.2" />
<line x1="516.70" y1="316.50" x2="518.30" y2="316.50" stroke="#555" stroke-width="0.9" />
<line x1="516.70" y1="336.20" x2="518.30" y2="336.20" stroke="#555" stroke-width="0.9" />
<line x1="516.70" y1="356.00" x2="518.30" y2="356.00" stroke="#555" stroke-width="0.9" />
<line x1="516.70" y1="376.80" x2="518.30" y2="376.80" stroke="#555" stroke-width="0.9" />
<line x1="516.70" y1="386.30" x2="518.30" y2="386.30" stroke="#555" stroke-width="0.9" />
<line x1="527.70" y1="395.40" x2="527.70" y2="397.00" stroke="#555" stroke-width="0.9" />
<text x="527.7" y="402.4" font-size="4.2" text-anchor="middle" fill="#666">0</text>
<line x1="536.10" y1="395.40" x2="536.10" y2="397.00" stroke="#555" stroke-width="0.9" />
<text x="536.1" y="402.4" font-size="4.2" text-anchor="middle" fill="#666">10<tspan baseline-shift="2" font-size="2.9">2</tspan></text>
<line x1="556.90" y1="395.40" x2="556.90" y2="397.00" stroke="#555" stroke-width="0.9" />
<text x="556.9" y="402.4" font-size="4.2" text-anchor="middle" fill="#666">10<tspan baseline-shift="2" font-size="2.9">3</tspan></text>
<line x1="576.30" y1="395.40" x2="576.30" y2="397.00" stroke="#555" stroke-width="0.9" />
<text x="576.3" y="402.4" font-size="4.2" text-anchor="middle" fill="#666">10<tspan baseline-shift="2" font-size="2.9">4</tspan></text>
<line x1="595.80" y1="395.40" x2="595.80" y2="397.00" stroke="#555" stroke-width="0.9" />
<text x="595.8" y="402.4" font-size="4.2" text-anchor="middle" fill="#666">10<tspan baseline-shift="2" font-size="2.9">5</tspan></text>
<polyline points="609.5,309.6 695.3,309.6 695.3,395.4" fill="none" stroke="#aaa" stroke-width="0.8"/>
<line x1="609.50" y1="309.60" x2="609.50" y2="395.80" stroke="#777" stroke-width="0.9" />
<line x1="609.10" y1="395.40" x2="695.30" y2="395.40" stroke="#333" stroke-width="1.2" />
<line x1="607.90" y1="316.50" x2="609.50" y2="316.50" stroke="#555" stroke-width="0.9" />
<line x1="607.90" y1="336.20" x2="609.50" y2="336.20" stroke="#555" stroke-width="0.9" />
<line x1="607.90" y1="356.00" x2="609.50" y2="356.00" stroke="#555" stroke-width="0.9" />
<line x1="607.90" y1="376.80" x2="609.50" y2="376.80" stroke="#555" stroke-width="0.9" />
<line x1="607.90" y1="386.30" x2="609.50" y2="386.30" stroke="#555" stroke-width="0.9" />
<line x1="618.90" y1="395.40" x2="618.90" y2="397.00" stroke="#555" stroke-width="0.9" />
<text x="618.9" y="402.4" font-size="4.2" text-anchor="middle" fill="#666">0</text>
<line x1="627.30" y1="395.40" x2="627.30" y2="397.00" stroke="#555" stroke-width="0.9" />
<text x="627.3" y="402.4" font-size="4.2" text-anchor="middle" fill="#666">10<tspan baseline-shift="2" font-size="2.9">2</tspan></text>
<line x1="648.10" y1="395.40" x2="648.10" y2="397.00" stroke="#555" stroke-width="0.9" />
<text x="648.1" y="402.4" font-size="4.2" text-anchor="middle" fill="#666">10<tspan baseline-shift="2" font-size="2.9">3</tspan></text>
<line x1="667.50" y1="395.40" x2="667.50" y2="397.00" stroke="#555" stroke-width="0.9" />
<text x="667.5" y="402.4" font-size="4.2" text-anchor="middle" fill="#666">10<tspan baseline-shift="2" font-size="2.9">4</tspan></text>
<line x1="687.00" y1="395.40" x2="687.00" y2="397.00" stroke="#555" stroke-width="0.9" />
<text x="687.0" y="402.4" font-size="4.2" text-anchor="middle" fill="#666">10<tspan baseline-shift="2" font-size="2.9">5</tspan></text>
<polyline points="700.2,309.6 786.4,309.6 786.4,395.4" fill="none" stroke="#aaa" stroke-width="0.8"/>
<line x1="700.20" y1="309.60" x2="700.20" y2="395.80" stroke="#777" stroke-width="0.9" />
<line x1="699.80" y1="395.40" x2="786.40" y2="395.40" stroke="#333" stroke-width="1.2" />
<line x1="698.60" y1="316.50" x2="700.20" y2="316.50" stroke="#555" stroke-width="0.9" />
<line x1="698.60" y1="336.20" x2="700.20" y2="336.20" stroke="#555" stroke-width="0.9" />
<line x1="698.60" y1="356.00" x2="700.20" y2="356.00" stroke="#555" stroke-width="0.9" />
<line x1="698.60" y1="376.80" x2="700.20" y2="376.80" stroke="#555" stroke-width="0.9" />
<line x1="698.60" y1="386.30" x2="700.20" y2="386.30" stroke="#555" stroke-width="0.9" />
<line x1="709.60" y1="395.40" x2="709.60" y2="397.00" stroke="#555" stroke-width="0.9" />
<text x="709.6" y="402.4" font-size="4.2" text-anchor="middle" fill="#666">0</text>
<line x1="718.00" y1="395.40" x2="718.00" y2="397.00" stroke="#555" stroke-width="0.9" />
<text x="718.0" y="402.4" font-size="4.2" text-anchor="middle" fill="#666">10<tspan baseline-shift="2" font-size="2.9">2</tspan></text>
<line x1="738.80" y1="395.40" x2="738.80" y2="397.00" stroke="#555" stroke-width="0.9" />
<text x="738.8" y="402.4" font-size="4.2" text-anchor="middle" fill="#666">10<tspan baseline-shift="2" font-size="2.9">3</tspan></text>
<line x1="758.20" y1="395.40" x2="758.20" y2="397.00" stroke="#555" stroke-width="0.9" />
<text x="758.2" y="402.4" font-size="4.2" text-anchor="middle" fill="#666">10<tspan baseline-shift="2" font-size="2.9">4</tspan></text>
<line x1="777.70" y1="395.40" x2="777.70" y2="397.00" stroke="#555" stroke-width="0.9" />
<text x="777.7" y="402.4" font-size="4.2" text-anchor="middle" fill="#666">10<tspan baseline-shift="2" font-size="2.9">5</tspan></text>
<path d="M481.2,378.4 480.0,378.6 478.8,378.6 477.6,378.5 476.4,378.3 475.2,377.8 474.2,377.2 473.4,376.4 472.8,375.4 472.5,374.4 472.3,373.2 472.3,372.0 472.5,370.8 472.8,369.8 473.2,368.8 473.6,367.8 474.1,366.8 474.8,365.7 475.4,364.8 476.0,364.0 476.7,363.2 477.4,362.4 478.2,361.6 479.0,360.8 479.9,360.0 480.8,359.3 481.6,358.6 482.5,358.0 483.6,357.2 484.8,356.4 486.0,355.6 486.8,354.9 487.6,354.0 488.4,352.9 489.0,352.0 489.9,350.8 490.6,350.0 491.4,349.2 492.4,348.4 493.6,347.7 494.7,347.2 496.0,346.8 497.2,346.6 498.4,346.6 499.5,346.8 500.8,347.2 501.7,347.6 502.8,348.3 503.6,349.0 504.4,349.9 505.0,350.8 505.6,352.0 506.0,353.1 506.3,354.4 506.4,355.6 506.4,356.8 506.3,358.0 506.0,359.2 505.7,360.4 505.2,361.4 504.7,362.4 504.0,363.4 503.2,364.4 502.6,365.2 502.0,366.0 501.6,366.9 501.7,368.0 502.0,369.1 502.1,370.4 501.7,371.6 501.2,372.5 500.4,373.4 499.6,374.1 498.5,374.8 497.2,375.4 496.0,375.8 494.8,376.1 493.6,376.2 492.4,376.3 491.2,376.3 490.0,376.3 488.8,376.4 487.6,376.6 486.4,377.0 485.2,377.4 484.0,377.8 482.8,378.1 481.6,378.4Z M482.4,376.4 481.2,376.6 480.0,376.6 478.8,376.5 477.6,376.2 476.5,375.6 475.6,374.8 474.9,373.6 474.6,372.4 474.6,371.2 474.8,370.1 475.2,368.8 475.6,367.8 476.1,366.8 476.8,365.7 477.4,364.8 478.0,364.0 478.7,363.2 479.5,362.4 480.3,361.6 481.2,360.8 482.0,360.1 482.8,359.5 483.9,358.8 484.8,358.2 485.7,357.6 486.8,356.9 488.0,356.0 488.8,355.2 489.4,354.4 490.0,353.5 490.8,352.4 491.5,351.6 492.3,350.8 493.2,350.0 494.4,349.3 495.6,348.9 496.8,348.6 498.0,348.6 499.2,348.7 500.4,349.1 501.6,349.8 502.4,350.5 503.2,351.5 503.8,352.4 504.3,353.6 504.6,354.8 504.7,356.0 504.7,357.2 504.5,358.4 504.1,359.6 503.6,360.8 502.9,362.0 502.0,363.2 501.3,364.0 500.4,364.8 499.7,365.6 499.0,366.8 499.3,368.0 499.9,369.2 500.1,370.4 499.7,371.6 498.8,372.8 498.0,373.5 497.0,374.0 496.1,374.4 494.8,374.8 493.6,374.9 492.4,375.0 491.2,375.0 490.0,374.9 488.8,374.9 487.6,375.1 486.4,375.4 485.2,375.7 484.0,376.1 482.8,376.4Z M483.6,374.4 482.4,374.6 481.2,374.6 480.0,374.5 478.8,374.0 477.8,373.2 477.2,372.2 477.0,371.2 477.0,370.0 477.2,368.9 477.6,367.8 478.1,366.8 478.8,365.6 479.6,364.5 480.4,363.6 481.2,362.8 482.0,362.0 482.8,361.4 483.6,360.7 484.7,360.0 485.6,359.4 486.7,358.8 487.6,358.3 488.6,357.6 489.6,356.8 490.3,356.0 491.0,355.2 491.6,354.3 492.4,353.3 493.2,352.4 494.0,351.8 495.0,351.2 496.0,350.8 497.2,350.6 498.4,350.7 499.6,351.0 500.5,351.6 501.4,352.4 502.0,353.3 502.5,354.4 502.8,355.6 502.9,356.8 502.7,358.0 502.4,359.2 502.0,360.1 501.4,361.2 500.7,362.0 500.0,362.8 499.2,363.5 498.4,364.2 497.6,364.8 496.9,365.6 496.2,366.8 496.3,368.0 497.2,369.2 497.6,370.4 497.3,371.6 496.5,372.4 495.6,372.9 494.4,373.3 493.2,373.4 492.0,373.4 490.8,373.3 489.6,373.2 488.4,373.3 487.2,373.5 486.0,373.8 484.8,374.2 483.7,374.4Z M483.6,372.8 482.4,372.9 481.2,372.7 480.0,372.0 479.3,371.2 479.0,370.0 479.1,368.8 479.4,367.6 480.0,366.5 480.5,365.6 481.1,364.8 481.8,364.0 482.6,363.2 483.6,362.4 484.4,361.8 485.6,361.0 486.6,360.4 487.6,359.9 488.8,359.2 490.0,358.5 490.8,357.9 491.5,357.2 492.1,356.4 492.8,355.5 493.6,354.5 494.4,353.7 495.6,352.9 496.8,352.6 498.0,352.6 499.2,353.1 500.0,353.8 500.7,354.8 501.0,356.0 501.1,357.2 500.9,358.4 500.4,359.5 499.9,360.4 499.2,361.2 498.4,362.0 497.6,362.6 496.8,363.3 496.0,364.0 495.2,364.8 494.6,365.6 493.8,366.8 493.3,368.0 493.2,369.2 493.4,370.4 492.4,370.9 491.2,371.1 490.2,371.2 488.8,371.5 487.6,371.8 486.4,372.2 485.2,372.5 484.0,372.8Z M485.6,371.3 484.4,371.5 483.2,371.5 482.0,371.3 480.9,370.4 480.6,369.2 480.7,368.0 481.1,366.8 481.8,365.6 482.5,364.8 483.2,364.0 484.0,363.3 484.8,362.7 485.8,362.0 486.8,361.4 488.0,360.8 489.0,360.4 490.0,360.0 491.2,359.4 492.4,358.4 493.0,357.6 493.9,356.4 494.5,355.6 495.5,354.8 496.4,354.4 497.6,354.3 498.6,354.8 499.2,355.6 499.6,356.8 499.5,358.0 498.9,359.2 498.0,360.4 497.2,361.1 496.4,361.7 495.6,362.4 494.8,363.1 494.1,364.0 493.3,365.2 492.5,366.4 491.6,367.6 491.0,368.4 490.2,369.2 489.2,369.9 488.1,370.4 487.1,370.8 486.0,371.2Z M494.4,360.4 494.3,359.2 494.8,358.1 495.4,357.2 496.4,356.4 497.5,356.8 497.6,358.0 496.8,359.2 495.6,360.0 494.4,360.4Z M484.8,370.4 483.7,370.4 482.6,370.0 482.0,369.2 481.9,368.0 482.2,366.8 482.8,365.8 483.6,364.8 484.4,364.0 485.2,363.4 486.4,362.6 487.5,362.0 488.6,361.6 489.6,361.3 490.8,361.0 492.0,360.8 493.2,360.6 493.6,361.6 493.2,362.7 492.8,363.6 492.2,364.8 491.6,365.9 491.0,366.8 490.3,367.6 489.5,368.4 488.4,369.2 487.2,369.8 486.0,370.2 484.9,370.4Z M486.4,369.3 485.2,369.5 484.0,369.4 483.1,368.8 482.9,367.6 483.2,366.6 483.8,365.6 484.5,364.8 485.4,364.0 486.4,363.3 487.5,362.8 488.4,362.5 489.6,362.2 490.8,362.3 491.5,363.2 491.4,364.4 490.9,365.6 490.0,366.8 489.3,367.6 488.4,368.3 487.2,369.0Z M486.4,368.5 485.2,368.7 484.0,368.0 484.0,366.9 484.7,365.6 485.4,364.8 486.4,364.1 487.4,363.6 488.4,363.3 489.6,363.3 490.3,364.4 490.0,365.5 489.4,366.4 488.7,367.2 487.6,368.0 486.4,368.5Z M486.8,367.6 485.6,367.7 485.0,366.8 485.6,365.6 486.4,364.9 487.6,364.3 488.8,364.3 489.0,365.6 488.4,366.5 487.6,367.2Z" fill="none" stroke="#333" stroke-width="0.5"/>
<path d="M568.8,381.0 567.6,381.0 566.4,380.9 565.2,380.6 564.3,380.2 563.2,379.5 562.4,378.7 561.7,377.8 561.2,376.9 560.8,375.8 560.6,374.6 560.6,373.4 560.7,372.2 561.0,371.0 561.5,369.8 562.3,368.6 562.9,367.8 563.6,367.0 564.4,366.2 565.2,365.6 566.4,364.7 567.6,363.9 568.8,363.1 569.6,362.5 570.4,361.8 571.1,361.0 571.9,360.2 572.6,359.4 573.4,358.6 574.1,357.8 574.9,357.0 575.7,356.2 576.5,355.4 577.4,354.6 578.3,353.8 579.1,353.0 579.9,352.2 580.6,351.4 581.3,350.6 582.0,349.8 582.7,349.0 583.4,348.2 584.2,347.4 585.1,346.6 586.0,346.0 587.1,345.4 588.0,345.0 589.2,344.6 590.4,344.4 591.6,344.1 592.8,343.4 593.9,342.6 594.8,342.0 595.9,341.4 597.1,341.0 598.4,340.9 599.4,341.4 600.0,342.3 600.1,343.4 599.9,344.6 599.4,345.8 598.9,347.0 598.6,348.2 598.8,349.4 599.1,350.6 599.2,351.8 599.3,353.0 599.2,354.2 599.1,355.4 598.8,356.6 598.5,357.8 598.0,359.0 597.4,360.2 596.8,361.2 596.0,362.2 595.2,363.0 594.4,363.7 593.6,364.3 592.6,365.0 591.6,365.6 590.6,366.2 589.6,366.9 588.8,367.5 588.0,368.2 587.2,369.0 586.4,369.7 585.6,370.5 584.8,371.2 584.0,371.9 583.2,372.6 582.4,373.3 581.6,373.9 580.8,374.6 580.0,375.3 579.2,375.9 578.4,376.6 577.6,377.2 576.8,377.8 575.6,378.6 574.4,379.3 573.4,379.8 572.4,380.2 571.2,380.6 570.0,380.9 568.8,381.0Z M570.4,379.0 569.2,379.2 568.0,379.2 566.8,378.9 565.8,378.6 564.8,378.0 564.0,377.3 563.2,376.2 562.8,375.1 562.6,373.8 562.6,372.6 562.9,371.4 563.4,370.2 564.0,369.2 564.8,368.2 565.6,367.4 566.4,366.7 567.6,365.8 568.8,365.0 569.9,364.2 570.8,363.4 571.6,362.6 572.3,361.8 573.0,361.0 573.7,360.2 574.5,359.4 575.2,358.6 576.0,357.8 576.8,357.0 577.6,356.3 578.4,355.5 579.2,354.8 580.0,354.1 580.8,353.3 581.5,352.6 582.2,351.8 582.9,351.0 583.7,350.2 584.4,349.4 585.2,348.7 586.0,348.0 587.0,347.4 588.0,346.9 589.2,346.5 590.4,346.2 591.6,345.9 592.6,345.4 593.5,344.6 594.3,343.8 595.2,343.1 596.2,342.6 597.2,342.4 598.4,343.0 598.6,344.2 598.2,345.4 597.6,346.5 597.0,347.4 596.6,348.6 596.8,349.6 597.1,350.6 597.4,351.8 597.5,353.0 597.5,354.2 597.4,355.4 597.2,356.4 596.9,357.4 596.4,358.6 595.7,359.8 594.8,361.0 594.0,361.8 593.2,362.5 592.0,363.4 590.8,364.2 589.6,365.0 588.8,365.7 588.0,366.3 587.2,367.1 586.4,367.8 585.6,368.6 584.8,369.3 584.0,370.1 583.2,370.8 582.4,371.4 581.6,372.1 580.8,372.7 580.0,373.4 579.2,374.0 578.4,374.7 577.6,375.3 576.8,375.9 575.8,376.6 574.8,377.3 573.8,377.8 572.8,378.3 571.6,378.7 570.5,379.0Z M570.8,377.1 569.6,377.2 568.4,377.2 567.2,376.8 566.2,376.2 565.4,375.4 564.9,374.2 564.7,373.0 564.9,371.8 565.4,370.6 566.0,369.6 566.8,368.7 567.6,368.0 568.4,367.3 569.4,366.6 570.4,365.8 571.2,365.1 572.0,364.3 572.8,363.4 573.5,362.6 574.2,361.8 574.9,361.0 575.6,360.2 576.3,359.4 577.1,358.6 578.0,357.8 578.8,357.0 579.6,356.3 580.4,355.6 581.2,354.9 582.0,354.2 582.8,353.4 583.5,352.6 584.3,351.8 585.1,351.0 585.9,350.2 586.8,349.5 587.7,349.0 588.8,348.5 590.0,348.2 591.2,348.1 592.4,348.2 593.6,348.6 594.3,349.4 595.0,350.6 595.5,351.8 595.8,353.0 595.8,354.2 595.7,355.4 595.4,356.6 595.0,357.8 594.4,358.8 593.6,359.8 592.9,360.6 592.0,361.4 591.2,362.0 590.3,362.6 589.2,363.4 588.4,364.1 587.6,364.8 586.8,365.5 586.0,366.3 585.2,367.1 584.5,367.8 583.6,368.6 582.8,369.3 582.0,370.0 581.2,370.6 580.4,371.2 579.6,371.8 578.8,372.4 577.6,373.3 576.8,373.9 575.9,374.6 574.8,375.3 573.6,376.0 572.4,376.6 571.2,377.0Z M571.6,375.1 570.4,375.3 569.2,375.2 568.0,374.7 567.2,373.8 566.9,372.6 567.2,371.4 567.8,370.2 568.6,369.4 569.4,368.6 570.4,367.8 571.2,367.2 572.0,366.4 572.8,365.6 573.6,364.6 574.2,363.8 574.8,363.0 575.5,362.2 576.1,361.4 576.9,360.6 577.6,359.8 578.4,359.0 579.2,358.3 580.0,357.6 580.8,356.9 581.6,356.3 582.4,355.6 583.2,354.8 584.0,354.1 584.8,353.2 585.6,352.4 586.4,351.7 587.2,351.1 588.4,350.4 589.6,350.1 590.8,350.0 592.0,350.3 593.0,351.0 593.6,351.8 594.0,352.8 594.2,353.8 594.2,355.0 594.0,356.0 593.7,357.0 593.0,358.2 592.4,359.0 591.6,359.8 590.8,360.4 590.0,361.1 589.2,361.7 588.4,362.3 587.6,363.0 586.8,363.8 586.0,364.6 585.2,365.4 584.4,366.2 583.6,367.0 582.8,367.7 582.0,368.4 581.2,369.0 580.4,369.6 579.5,370.2 578.4,371.0 577.2,371.8 576.1,372.6 575.2,373.2 574.3,373.8 573.2,374.4 572.0,374.9Z M570.8,373.4 569.6,373.0 569.2,371.8 569.6,370.8 570.4,369.8 571.2,369.0 572.0,368.3 572.8,367.4 573.5,366.6 574.3,365.4 575.2,364.2 576.0,363.1 576.7,362.2 577.4,361.4 578.1,360.6 578.9,359.8 579.8,359.0 580.7,358.2 581.6,357.5 582.4,356.9 583.2,356.2 584.0,355.5 584.8,354.7 585.6,354.0 586.4,353.2 587.2,352.5 588.4,351.8 589.6,351.5 590.8,351.5 592.0,352.2 592.6,353.0 592.9,354.2 592.9,355.4 592.5,356.6 592.0,357.6 591.2,358.6 590.4,359.3 589.6,360.0 588.8,360.6 588.0,361.3 587.2,362.0 586.4,362.8 585.6,363.6 584.8,364.5 584.0,365.3 583.2,366.1 582.4,366.8 581.6,367.5 580.8,368.1 579.6,368.9 578.4,369.7 577.5,370.2 576.4,370.9 575.5,371.4 574.4,372.1 573.4,372.6 572.4,373.1 571.2,373.4Z M575.2,369.8 574.0,369.9 573.9,368.6 574.4,367.5 574.8,366.6 575.5,365.4 576.0,364.5 576.8,363.4 577.4,362.6 578.0,361.8 578.8,361.0 579.6,360.2 580.4,359.5 581.2,358.8 582.0,358.2 583.1,357.4 584.0,356.7 584.8,356.0 585.6,355.3 586.4,354.5 587.2,353.8 588.4,353.0 589.6,352.7 590.8,353.0 591.5,353.8 591.8,355.0 591.5,356.2 590.8,357.4 590.1,358.2 589.3,359.0 588.4,359.7 587.6,360.4 586.8,361.1 586.0,362.0 585.2,362.9 584.4,363.8 583.7,364.6 582.8,365.4 582.0,366.2 581.2,366.8 580.4,367.4 579.2,368.1 578.0,368.8 576.8,369.3 575.6,369.7Z M577.6,367.9 576.4,367.8 576.0,366.9 576.3,365.8 576.8,364.6 577.6,363.4 578.4,362.3 579.2,361.4 580.0,360.6 580.8,360.0 581.6,359.3 582.7,358.6 583.6,358.0 584.8,357.1 585.6,356.4 586.4,355.7 587.2,355.0 588.0,354.4 589.2,354.0 590.4,354.5 590.5,355.8 590.0,357.0 589.3,357.8 588.4,358.6 587.6,359.3 586.8,360.0 586.0,360.9 585.3,361.8 584.6,362.6 583.9,363.4 583.2,364.2 582.4,365.0 581.6,365.7 580.8,366.3 579.7,367.0 578.8,367.5 577.6,367.9Z M579.6,366.2 578.4,366.6 577.4,365.8 577.7,364.6 578.4,363.4 579.2,362.3 580.0,361.5 580.8,360.8 581.6,360.1 582.8,359.4 584.0,358.8 585.2,358.2 586.4,357.5 587.2,356.8 588.3,356.6 587.6,357.4 586.8,358.2 586.2,359.0 585.6,359.9 584.9,361.0 584.1,362.2 583.5,363.0 582.8,363.8 582.0,364.5 581.2,365.2 580.4,365.8Z M580.0,365.1 578.8,365.1 578.8,364.1 579.4,363.0 580.1,362.2 581.0,361.4 582.0,360.7 583.2,360.3 583.6,361.4 582.9,362.6 582.3,363.4 581.5,364.2 580.4,365.0Z" fill="none" stroke="#333" stroke-width="0.5"/>
<path d="M695.6,335.6 695.2,336.6 694.8,337.6 694.3,338.6 693.6,339.7 693.1,340.6 692.4,341.5 691.6,342.5 690.9,343.4 690.2,344.2 689.6,345.0 688.9,346.2 688.6,347.4 688.6,348.6 688.7,349.8 688.7,351.0 688.6,352.2 688.4,353.4 688.2,354.6 687.9,355.8 687.5,357.0 687.0,358.2 686.4,359.2 685.8,360.2 685.2,361.0 684.5,361.8 683.7,362.6 682.8,363.3 681.6,364.1 680.4,364.6 679.2,365.0 678.0,365.2 676.8,365.4 675.6,365.7 674.4,366.0 673.2,366.6 672.4,367.3 671.6,368.0 670.8,368.9 670.0,369.7 669.2,370.5 668.4,371.2 667.6,371.8 666.8,372.5 665.6,373.3 664.4,374.1 663.5,374.6 662.4,375.2 661.2,375.7 660.0,376.2 658.8,376.5 657.6,376.8 656.4,377.0 655.2,376.9 654.0,376.7 652.8,375.8 652.3,374.6 652.3,373.4 652.6,372.2 653.2,371.0 653.9,369.8 654.8,368.7 655.6,367.8 656.3,367.0 657.2,366.2 658.0,365.5 658.8,364.8 659.7,364.2 660.8,363.4 662.0,362.6 663.2,361.9 664.0,361.2 664.8,360.3 665.2,359.4 665.6,358.2 665.9,357.0 666.4,355.8 667.0,354.6 667.6,353.7 668.4,352.6 669.2,351.5 669.8,350.6 670.4,349.6 670.8,348.6 671.4,347.4 671.9,346.2 672.4,345.3 673.0,344.2 673.9,343.0 674.6,342.2 675.5,341.4 676.4,340.7 677.6,339.8 678.8,339.0 679.6,338.4 680.4,337.6 681.2,336.8 682.0,335.9 682.8,335.0 683.5,334.2 684.3,333.4 685.2,332.6 686.0,331.9 686.8,331.2 687.7,330.6 688.8,330.0 689.9,329.4 691.0,329.0 692.0,328.8 693.2,328.7 694.4,329.0 695.5,329.8 M658.8,374.2 657.6,374.2 656.5,373.8 655.8,373.0 655.8,371.8 656.1,370.6 656.8,369.5 657.4,368.6 658.2,367.8 659.0,367.0 659.9,366.2 660.8,365.5 662.0,364.7 662.9,364.2 664.0,363.6 665.2,363.0 666.4,362.2 667.0,361.4 667.3,360.2 667.5,359.0 667.7,357.8 668.0,356.6 668.4,355.6 669.0,354.6 669.6,353.6 670.3,352.6 671.1,351.4 671.6,350.5 672.1,349.4 672.6,348.2 673.2,347.0 673.9,345.8 674.7,344.6 675.4,343.8 676.2,343.0 677.2,342.2 678.4,341.4 679.2,340.8 680.0,340.1 680.7,339.4 681.4,338.6 682.0,337.8 682.7,337.0 683.3,336.2 684.1,335.4 684.8,334.6 685.6,333.9 686.4,333.2 687.2,332.6 688.4,331.9 689.3,331.4 690.4,331.0 691.6,330.8 692.7,331.0 693.6,331.6 694.1,332.6 694.3,333.8 694.2,335.0 693.9,336.2 693.4,337.4 692.8,338.6 692.1,339.8 691.3,341.0 690.6,341.8 690.0,342.6 689.3,343.4 688.5,344.2 687.9,345.0 687.3,346.2 687.1,347.4 687.1,348.6 687.2,349.8 687.2,351.0 687.1,352.2 687.0,353.4 686.7,354.6 686.4,355.7 686.0,356.7 685.5,357.8 684.8,358.9 684.2,359.8 683.5,360.6 682.6,361.4 681.6,362.1 680.7,362.6 679.7,363.0 678.4,363.4 677.2,363.6 676.0,363.8 674.8,364.0 673.6,364.2 672.4,364.5 671.5,365.0 670.6,365.8 670.0,366.6 669.2,367.6 668.4,368.6 667.7,369.4 666.8,370.2 666.0,370.9 664.8,371.7 663.6,372.5 662.6,373.0 661.6,373.5 660.6,373.8 659.6,374.1Z M677.2,361.9 676.0,362.0 674.8,362.1 673.6,362.0 672.4,361.9 671.2,361.4 670.4,360.6 669.9,359.4 669.8,358.2 669.9,357.0 670.4,355.8 671.0,354.6 671.6,353.6 672.2,352.6 672.8,351.4 673.3,350.2 673.9,349.0 674.4,347.9 674.9,347.0 675.6,346.0 676.4,345.1 677.2,344.4 678.4,343.5 679.6,342.7 680.8,341.8 681.5,341.0 682.4,339.8 683.2,338.6 684.0,337.5 684.8,336.6 685.5,335.8 686.4,335.0 687.2,334.4 688.2,333.8 689.2,333.4 690.4,333.2 691.6,333.6 692.1,334.6 692.2,335.8 691.9,337.0 691.4,338.2 690.8,339.3 690.2,340.2 689.6,341.0 688.9,341.8 688.1,342.6 687.3,343.4 686.5,344.2 685.9,345.0 685.5,346.2 685.4,347.4 685.5,348.6 685.7,349.8 685.7,351.0 685.7,352.2 685.5,353.4 685.2,354.6 684.8,355.8 684.2,357.0 683.6,358.0 682.8,359.0 682.0,359.8 681.2,360.4 680.1,361.0 679.1,361.4 678.0,361.7Z M662.4,369.4 662.4,368.2 663.6,367.6 663.8,368.6 662.8,369.3Z M684.4,343.1 683.4,342.6 683.7,341.4 684.1,340.2 684.8,339.0 685.6,337.9 686.4,337.0 687.2,336.4 688.4,335.9 689.6,336.2 689.8,337.4 689.4,338.6 688.8,339.6 688.0,340.6 687.2,341.4 686.4,342.0 685.4,342.6 684.4,343.1Z M677.2,360.3 676.0,360.3 674.8,360.3 673.6,359.9 672.4,359.0 672.0,358.0 672.0,357.0 672.3,355.8 672.8,354.6 673.3,353.4 673.9,352.2 674.4,351.1 674.8,350.1 675.3,349.0 676.0,347.9 676.7,347.0 677.5,346.2 678.4,345.5 679.3,345.0 680.2,344.6 681.2,344.3 682.4,343.9 683.2,344.6 683.4,345.8 683.7,347.0 684.0,348.2 684.2,349.4 684.4,350.6 684.4,351.8 684.3,353.0 684.0,354.1 683.6,355.3 683.2,356.2 682.4,357.3 681.6,358.2 680.8,358.9 679.6,359.6 678.4,360.0 677.2,360.3Z M677.2,359.0 676.0,359.0 674.8,358.6 674.0,357.9 673.6,356.6 673.8,355.4 674.2,354.2 674.7,353.0 675.2,351.8 675.6,350.7 676.1,349.8 676.8,348.6 677.5,347.8 678.4,347.0 679.6,346.4 680.8,346.3 682.0,347.0 682.7,348.2 683.1,349.4 683.3,350.6 683.4,351.8 683.3,353.0 683.0,354.2 682.5,355.4 681.7,356.6 680.9,357.4 680.0,358.1 679.0,358.6 678.0,358.9Z M678.0,357.8 676.8,357.8 675.7,357.4 675.0,356.2 675.0,355.0 675.3,353.8 675.7,352.6 676.2,351.4 676.8,350.2 677.6,349.0 678.4,348.3 679.4,347.8 680.6,347.8 681.6,348.6 682.2,349.8 682.5,351.0 682.5,352.2 682.4,353.4 682.0,354.4 681.5,355.4 680.9,356.2 680.0,357.0 678.8,357.6Z M678.8,356.7 677.6,356.9 676.4,356.4 676.0,355.4 676.0,354.4 676.2,353.4 676.6,352.2 677.1,351.0 677.9,349.8 678.8,349.1 680.0,348.8 681.1,349.4 681.6,350.3 681.8,351.4 681.8,352.6 681.6,353.7 681.2,354.6 680.4,355.7 679.6,356.4Z M678.8,355.8 677.6,355.8 676.9,355.0 676.9,353.8 677.1,352.6 677.6,351.5 678.2,350.6 679.2,349.9 680.4,350.1 681.0,351.0 681.2,352.1 681.0,353.4 680.4,354.6 679.6,355.4Z M679.2,354.8 678.0,354.7 677.6,353.8 677.8,352.6 678.4,351.5 679.2,350.9 680.3,351.4 680.5,352.6 680.1,353.8 679.4,354.6Z" fill="none" stroke="#555" stroke-width="0.5"/>
<path d="M746.8,376.7 745.6,376.9 744.4,377.0 743.2,376.9 742.0,376.7 740.8,375.9 740.4,374.9 740.4,373.8 740.8,372.8 741.3,371.8 742.0,370.8 742.8,369.8 743.6,369.0 744.4,368.2 745.2,367.5 746.0,366.8 746.8,366.2 748.0,365.4 749.2,364.6 750.4,363.9 751.6,363.2 752.8,362.6 754.0,362.0 755.2,361.4 756.4,360.6 757.0,359.4 757.1,358.2 757.1,357.0 757.3,355.8 757.6,354.6 758.0,353.4 758.4,352.5 759.0,351.4 759.6,350.5 760.4,349.5 761.2,348.7 762.0,347.8 762.7,347.0 763.3,346.2 764.0,345.2 764.6,344.2 765.2,343.2 765.9,342.2 766.5,341.4 767.2,340.6 768.0,339.8 768.8,339.1 769.6,338.5 770.5,337.8 771.5,337.0 772.4,336.2 773.1,335.4 773.8,334.6 774.5,333.8 775.3,333.0 776.0,332.2 776.8,331.5 777.6,330.8 778.4,330.2 779.5,329.4 780.4,328.9 781.6,328.4 782.8,328.1 784.0,328.1 785.2,328.5 786.0,329.3 786.5,330.2 786.7,331.4 786.7,332.6 786.6,333.8 786.3,335.0 786.0,336.1 785.6,337.2 785.2,338.2 784.6,339.4 784.0,340.5 783.5,341.4 782.8,342.4 782.1,343.4 781.2,344.6 780.5,345.8 780.1,347.0 779.9,348.2 779.8,349.4 779.8,350.6 779.6,351.8 779.5,353.0 779.3,354.2 779.0,355.4 778.6,356.6 778.2,357.8 777.7,359.0 777.2,360.0 776.6,361.0 776.0,361.9 775.2,363.0 774.4,363.8 773.6,364.5 772.4,365.3 771.2,365.8 770.0,366.1 768.8,366.2 767.6,366.1 766.4,365.9 765.2,366.1 764.1,366.6 763.2,367.4 762.4,368.1 761.6,368.8 760.8,369.5 760.0,370.2 759.2,370.8 758.3,371.4 757.2,372.1 756.0,372.9 755.1,373.4 754.0,374.0 752.8,374.6 751.9,375.0 750.9,375.4 749.8,375.8 748.8,376.1 747.6,376.5Z M748.8,373.9 747.6,374.1 746.4,374.0 745.2,373.5 744.7,372.6 744.9,371.4 745.6,370.2 746.3,369.4 747.0,368.6 747.9,367.8 748.8,367.1 750.0,366.3 751.2,365.5 752.1,365.0 753.2,364.5 754.4,364.0 755.6,363.5 756.8,363.1 758.0,362.6 759.1,361.8 759.2,360.6 759.0,359.4 758.8,358.2 758.7,357.0 758.7,355.8 759.0,354.6 759.4,353.4 760.0,352.4 760.6,351.4 761.3,350.6 762.0,349.8 762.8,349.0 763.6,348.2 764.3,347.4 765.1,346.2 765.8,345.0 766.4,344.1 767.2,343.0 767.9,342.2 768.7,341.4 769.6,340.7 770.4,340.0 771.2,339.4 772.0,338.6 772.8,337.8 773.5,337.0 774.1,336.2 774.8,335.4 775.5,334.6 776.2,333.8 777.0,333.0 778.0,332.2 778.8,331.6 779.8,331.0 780.8,330.6 782.0,330.3 783.2,330.4 784.2,331.0 784.8,332.2 785.0,333.4 784.9,334.6 784.7,335.8 784.3,337.0 783.8,338.2 783.2,339.4 782.6,340.6 782.0,341.5 781.2,342.6 780.6,343.4 780.0,344.2 779.2,345.4 778.8,346.4 778.6,347.4 778.5,348.6 778.4,349.8 778.4,351.0 778.2,352.2 778.0,353.4 777.8,354.6 777.5,355.8 777.0,357.0 776.5,358.2 776.0,359.1 775.3,360.2 774.7,361.0 774.0,361.8 773.2,362.5 772.0,363.3 770.8,363.7 769.6,363.9 768.4,363.8 767.2,363.5 766.0,363.1 764.8,362.9 763.8,363.0 762.8,363.4 762.0,364.2 761.3,365.4 760.8,366.3 760.0,367.3 759.2,368.2 758.4,368.9 757.6,369.6 756.8,370.2 755.6,371.0 754.4,371.7 753.5,372.2 752.4,372.7 751.2,373.2 750.0,373.6 748.8,373.9Z M771.2,361.4 770.0,361.7 768.8,361.6 767.6,361.1 766.5,360.6 765.5,360.2 764.4,360.0 763.2,359.9 762.0,359.5 761.2,358.8 760.6,357.8 760.4,356.6 760.4,355.4 760.8,354.2 761.2,353.2 761.9,352.2 762.6,351.4 763.4,350.6 764.2,349.8 764.9,349.0 765.5,348.2 766.3,347.0 767.1,345.8 768.0,344.6 768.7,343.8 769.5,343.0 770.4,342.3 771.2,341.6 772.0,341.0 772.7,340.2 773.4,339.4 774.0,338.6 774.8,337.5 775.5,336.6 776.2,335.8 776.9,335.0 777.8,334.2 778.8,333.5 779.7,333.0 780.8,332.7 782.0,332.8 782.8,333.7 783.1,335.0 782.9,336.2 782.6,337.4 782.1,338.6 781.6,339.6 781.0,340.6 780.4,341.5 779.6,342.5 778.9,343.4 778.3,344.2 777.6,345.3 777.2,346.5 777.1,347.8 777.0,349.0 777.0,350.2 777.0,351.4 776.8,352.6 776.6,353.8 776.3,355.0 775.8,356.2 775.3,357.4 774.5,358.6 773.9,359.4 773.2,360.2 772.4,360.8 771.2,361.4Z M771.2,359.5 770.0,359.7 768.8,359.5 767.8,359.0 766.8,358.5 765.6,358.0 764.4,357.7 763.3,357.4 762.5,356.6 762.3,355.4 762.6,354.2 763.2,353.1 764.0,352.2 764.8,351.4 765.5,350.6 766.3,349.4 767.1,348.2 767.9,347.0 768.8,345.8 769.6,345.0 770.4,344.3 771.6,343.5 772.8,342.7 773.6,341.9 774.3,341.0 774.8,340.1 775.5,339.0 776.3,337.8 777.0,337.0 777.8,336.2 778.8,335.5 780.0,335.2 780.8,335.8 781.0,337.0 780.7,338.2 780.1,339.4 779.6,340.3 778.8,341.3 778.0,342.2 777.2,343.0 776.5,343.8 776.0,344.7 775.7,345.8 775.7,347.0 775.7,348.2 775.8,349.4 775.8,350.6 775.7,351.8 775.5,353.0 775.2,354.2 774.8,355.4 774.2,356.6 773.6,357.5 772.8,358.4 772.0,359.1Z M771.2,358.0 770.0,358.2 768.8,357.9 767.6,357.1 766.4,356.3 765.2,355.5 764.9,354.2 765.4,353.0 766.0,352.1 766.6,351.0 767.2,350.0 767.8,349.0 768.4,348.0 769.2,347.0 770.0,346.2 771.2,345.4 772.4,345.0 773.6,345.2 774.2,346.2 774.5,347.4 774.7,348.6 774.8,349.6 774.8,351.0 774.7,352.2 774.5,353.4 774.1,354.6 773.6,355.6 773.0,356.6 772.2,357.4 771.2,358.0Z M771.2,356.8 770.0,356.9 769.0,356.6 768.0,355.8 767.4,355.0 767.0,353.8 767.1,352.6 767.5,351.4 768.0,350.3 768.5,349.4 769.2,348.4 770.0,347.5 771.2,346.8 772.4,346.7 773.2,347.3 773.8,348.6 774.0,349.8 774.1,351.0 774.0,352.2 773.7,353.4 773.2,354.6 772.4,355.8 771.6,356.5Z M770.8,355.9 769.6,355.8 768.6,355.0 768.0,353.8 768.0,352.6 768.3,351.4 768.8,350.2 769.6,349.0 770.4,348.2 771.5,347.8 772.5,348.2 773.2,349.4 773.4,350.6 773.4,351.8 773.2,352.9 772.8,354.0 772.2,355.0 771.2,355.8Z M771.2,354.8 770.0,354.9 769.2,354.2 768.8,353.1 768.9,351.8 769.4,350.6 770.0,349.7 770.8,349.0 771.8,349.0 772.5,349.8 772.8,351.0 772.7,352.2 772.4,353.3 771.9,354.2Z M771.2,353.8 770.1,353.8 769.5,352.6 769.7,351.4 770.4,350.3 771.6,350.1 772.1,351.0 772.1,352.2 771.6,353.4Z" fill="none" stroke="#666" stroke-width="0.5"/>
<path d="M485.3,329.7 L503.6,314.6 L512.7,319.4 L512.7,370.8 L500.8,381.4Z" fill="none" stroke="#444" stroke-width="0.75"/>
<path d="M576.3,330.0 L594.7,315.2 L604.3,319.0 L604.3,370.8 L591.9,381.4Z" fill="none" stroke="#444" stroke-width="0.75"/>
<path d="M667.1,330.0 L686.0,315.2 L695.3,318.5 L695.3,372.4 L683.1,381.4Z" fill="none" stroke="#444" stroke-width="0.75"/>
<path d="M758.3,329.7 L777.3,315.2 L786.4,319.5 L786.4,371.6 L774.1,381.4Z" fill="none" stroke="#444" stroke-width="0.75"/>
<text x="454" y="333" font-size="12.6" text-anchor="middle" fill="#000" stroke="#000" stroke-width="0.3">37.7</text>
<text x="547.2" y="333" font-size="12.6" text-anchor="middle" fill="#000" stroke="#000" stroke-width="0.3">43.0</text>
<text x="636.9" y="333" font-size="12.6" text-anchor="middle" fill="#000" stroke="#000" stroke-width="0.3">67.8</text>
<text x="728.2" y="333" font-size="12.6" text-anchor="middle" fill="#000" stroke="#000" stroke-width="0.3">74.9</text>
<text x="471" y="302" font-size="12.2" text-anchor="middle" fill="#000" stroke="#000" stroke-width="0.3">0</text>
<text x="560.6" y="302" font-size="12.2" text-anchor="middle" fill="#000" stroke="#000" stroke-width="0.3">0.1</text>
<text x="651.9" y="302" font-size="12.2" text-anchor="middle" fill="#000" stroke="#000" stroke-width="0.3">1</text>
<text x="741.5" y="302" font-size="12.2" text-anchor="middle" fill="#000" stroke="#000" stroke-width="0.3">10</text>
<text x="411.4" y="352.6" font-size="9.4" text-anchor="middle" fill="#000" stroke="#000" stroke-width="0.15" transform="rotate(-90 411.4 352.6)">CD86</text>
<text x="442.3" y="411.6" font-size="9.4" text-anchor="middle" fill="#000" stroke="#000" stroke-width="0.15">MHCII</text>
<line x1="471.00" y1="409.90" x2="777.00" y2="409.90" stroke="#222" stroke-width="1.5" />
<path d="M776.8,406.9 L782.8,409.9 L776.8,412.9 Z" fill="#000"/>
<text x="368.8" y="449.6" font-size="18.8" fill="#000" stroke="#000" stroke-width="0.3" style="font-weight:bold">F</text>
<text x="412.3" y="479.5" font-size="10.5" text-anchor="middle" fill="#000" stroke="#000" stroke-width="0.3" transform="rotate(-90 412.3 479.5)">% max</text>
<polyline points="427.2,439.3 515.0,439.3 515.0,516.2" fill="none" stroke="#aaa" stroke-width="0.8"/>
<line x1="427.20" y1="439.30" x2="427.20" y2="516.20" stroke="#999" stroke-width="0.8" />
<line x1="425.40" y1="516.20" x2="427.20" y2="516.20" stroke="#555" stroke-width="0.9" />
<text x="424.0" y="517.7" font-size="4.2" text-anchor="end" fill="#666">0</text>
<line x1="425.40" y1="501.52" x2="427.20" y2="501.52" stroke="#555" stroke-width="0.9" />
<text x="424.0" y="503.0" font-size="4.2" text-anchor="end" fill="#666">20</text>
<line x1="425.40" y1="486.84" x2="427.20" y2="486.84" stroke="#555" stroke-width="0.9" />
<text x="424.0" y="488.3" font-size="4.2" text-anchor="end" fill="#666">40</text>
<line x1="425.40" y1="472.16" x2="427.20" y2="472.16" stroke="#555" stroke-width="0.9" />
<text x="424.0" y="473.7" font-size="4.2" text-anchor="end" fill="#666">60</text>
<line x1="425.40" y1="457.48" x2="427.20" y2="457.48" stroke="#555" stroke-width="0.9" />
<text x="424.0" y="459.0" font-size="4.2" text-anchor="end" fill="#666">80</text>
<line x1="425.40" y1="442.80" x2="427.20" y2="442.80" stroke="#555" stroke-width="0.9" />
<text x="424.0" y="444.3" font-size="4.2" text-anchor="end" fill="#666">100</text>
<line x1="426.30" y1="516.20" x2="427.20" y2="516.20" stroke="#888" stroke-width="0.5" />
<line x1="426.30" y1="512.53" x2="427.20" y2="512.53" stroke="#888" stroke-width="0.5" />
<line x1="426.30" y1="508.86" x2="427.20" y2="508.86" stroke="#888" stroke-width="0.5" />
<line x1="426.30" y1="505.19" x2="427.20" y2="505.19" stroke="#888" stroke-width="0.5" />
<line x1="426.30" y1="501.52" x2="427.20" y2="501.52" stroke="#888" stroke-width="0.5" />
<line x1="426.30" y1="497.85" x2="427.20" y2="497.85" stroke="#888" stroke-width="0.5" />
<line x1="426.30" y1="494.18" x2="427.20" y2="494.18" stroke="#888" stroke-width="0.5" />
<line x1="426.30" y1="490.51" x2="427.20" y2="490.51" stroke="#888" stroke-width="0.5" />
<line x1="426.30" y1="486.84" x2="427.20" y2="486.84" stroke="#888" stroke-width="0.5" />
<line x1="426.30" y1="483.17" x2="427.20" y2="483.17" stroke="#888" stroke-width="0.5" />
<line x1="426.30" y1="479.50" x2="427.20" y2="479.50" stroke="#888" stroke-width="0.5" />
<line x1="426.30" y1="475.83" x2="427.20" y2="475.83" stroke="#888" stroke-width="0.5" />
<line x1="426.30" y1="472.16" x2="427.20" y2="472.16" stroke="#888" stroke-width="0.5" />
<line x1="426.30" y1="468.49" x2="427.20" y2="468.49" stroke="#888" stroke-width="0.5" />
<line x1="426.30" y1="464.82" x2="427.20" y2="464.82" stroke="#888" stroke-width="0.5" />
<line x1="426.30" y1="461.15" x2="427.20" y2="461.15" stroke="#888" stroke-width="0.5" />
<line x1="426.30" y1="457.48" x2="427.20" y2="457.48" stroke="#888" stroke-width="0.5" />
<line x1="426.30" y1="453.81" x2="427.20" y2="453.81" stroke="#888" stroke-width="0.5" />
<line x1="426.30" y1="450.14" x2="427.20" y2="450.14" stroke="#888" stroke-width="0.5" />
<line x1="426.30" y1="446.47" x2="427.20" y2="446.47" stroke="#888" stroke-width="0.5" />
<line x1="426.30" y1="442.80" x2="427.20" y2="442.80" stroke="#888" stroke-width="0.5" />
<line x1="436.70" y1="516.20" x2="436.70" y2="518.00" stroke="#555" stroke-width="0.9" />
<text x="436.7" y="524.2" font-size="4.2" text-anchor="middle" fill="#666">0</text>
<line x1="446.20" y1="516.20" x2="446.20" y2="518.00" stroke="#555" stroke-width="0.9" />
<text x="446.2" y="524.2" font-size="4.2" text-anchor="middle" fill="#666">10<tspan baseline-shift="2" font-size="2.9">2</tspan></text>
<line x1="467.00" y1="516.20" x2="467.00" y2="518.00" stroke="#555" stroke-width="0.9" />
<text x="467.0" y="524.2" font-size="4.2" text-anchor="middle" fill="#666">10<tspan baseline-shift="2" font-size="2.9">3</tspan></text>
<line x1="486.90" y1="516.20" x2="486.90" y2="518.00" stroke="#555" stroke-width="0.9" />
<text x="486.9" y="524.2" font-size="4.2" text-anchor="middle" fill="#666">10<tspan baseline-shift="2" font-size="2.9">4</tspan></text>
<line x1="506.00" y1="516.20" x2="506.00" y2="518.00" stroke="#555" stroke-width="0.9" />
<text x="506.0" y="524.2" font-size="4.2" text-anchor="middle" fill="#666">10<tspan baseline-shift="2" font-size="2.9">5</tspan></text>
<polyline points="516.6,439.3 604.5,439.3 604.5,516.2" fill="none" stroke="#aaa" stroke-width="0.8"/>
<line x1="516.60" y1="439.30" x2="516.60" y2="516.20" stroke="#999" stroke-width="0.8" />
<line x1="514.80" y1="516.20" x2="516.60" y2="516.20" stroke="#555" stroke-width="0.9" />
<line x1="514.80" y1="501.52" x2="516.60" y2="501.52" stroke="#555" stroke-width="0.9" />
<line x1="514.80" y1="486.84" x2="516.60" y2="486.84" stroke="#555" stroke-width="0.9" />
<line x1="514.80" y1="472.16" x2="516.60" y2="472.16" stroke="#555" stroke-width="0.9" />
<line x1="514.80" y1="457.48" x2="516.60" y2="457.48" stroke="#555" stroke-width="0.9" />
<line x1="514.80" y1="442.80" x2="516.60" y2="442.80" stroke="#555" stroke-width="0.9" />
<line x1="515.70" y1="516.20" x2="516.60" y2="516.20" stroke="#888" stroke-width="0.5" />
<line x1="515.70" y1="512.53" x2="516.60" y2="512.53" stroke="#888" stroke-width="0.5" />
<line x1="515.70" y1="508.86" x2="516.60" y2="508.86" stroke="#888" stroke-width="0.5" />
<line x1="515.70" y1="505.19" x2="516.60" y2="505.19" stroke="#888" stroke-width="0.5" />
<line x1="515.70" y1="501.52" x2="516.60" y2="501.52" stroke="#888" stroke-width="0.5" />
<line x1="515.70" y1="497.85" x2="516.60" y2="497.85" stroke="#888" stroke-width="0.5" />
<line x1="515.70" y1="494.18" x2="516.60" y2="494.18" stroke="#888" stroke-width="0.5" />
<line x1="515.70" y1="490.51" x2="516.60" y2="490.51" stroke="#888" stroke-width="0.5" />
<line x1="515.70" y1="486.84" x2="516.60" y2="486.84" stroke="#888" stroke-width="0.5" />
<line x1="515.70" y1="483.17" x2="516.60" y2="483.17" stroke="#888" stroke-width="0.5" />
<line x1="515.70" y1="479.50" x2="516.60" y2="479.50" stroke="#888" stroke-width="0.5" />
<line x1="515.70" y1="475.83" x2="516.60" y2="475.83" stroke="#888" stroke-width="0.5" />
<line x1="515.70" y1="472.16" x2="516.60" y2="472.16" stroke="#888" stroke-width="0.5" />
<line x1="515.70" y1="468.49" x2="516.60" y2="468.49" stroke="#888" stroke-width="0.5" />
<line x1="515.70" y1="464.82" x2="516.60" y2="464.82" stroke="#888" stroke-width="0.5" />
<line x1="515.70" y1="461.15" x2="516.60" y2="461.15" stroke="#888" stroke-width="0.5" />
<line x1="515.70" y1="457.48" x2="516.60" y2="457.48" stroke="#888" stroke-width="0.5" />
<line x1="515.70" y1="453.81" x2="516.60" y2="453.81" stroke="#888" stroke-width="0.5" />
<line x1="515.70" y1="450.14" x2="516.60" y2="450.14" stroke="#888" stroke-width="0.5" />
<line x1="515.70" y1="446.47" x2="516.60" y2="446.47" stroke="#888" stroke-width="0.5" />
<line x1="515.70" y1="442.80" x2="516.60" y2="442.80" stroke="#888" stroke-width="0.5" />
<line x1="526.10" y1="516.20" x2="526.10" y2="518.00" stroke="#555" stroke-width="0.9" />
<text x="526.1" y="524.2" font-size="4.2" text-anchor="middle" fill="#666">0</text>
<line x1="535.60" y1="516.20" x2="535.60" y2="518.00" stroke="#555" stroke-width="0.9" />
<text x="535.6" y="524.2" font-size="4.2" text-anchor="middle" fill="#666">10<tspan baseline-shift="2" font-size="2.9">2</tspan></text>
<line x1="556.40" y1="516.20" x2="556.40" y2="518.00" stroke="#555" stroke-width="0.9" />
<text x="556.4" y="524.2" font-size="4.2" text-anchor="middle" fill="#666">10<tspan baseline-shift="2" font-size="2.9">3</tspan></text>
<line x1="576.30" y1="516.20" x2="576.30" y2="518.00" stroke="#555" stroke-width="0.9" />
<text x="576.3" y="524.2" font-size="4.2" text-anchor="middle" fill="#666">10<tspan baseline-shift="2" font-size="2.9">4</tspan></text>
<line x1="595.40" y1="516.20" x2="595.40" y2="518.00" stroke="#555" stroke-width="0.9" />
<text x="595.4" y="524.2" font-size="4.2" text-anchor="middle" fill="#666">10<tspan baseline-shift="2" font-size="2.9">5</tspan></text>
<polyline points="606.6,439.3 693.7,439.3 693.7,516.2" fill="none" stroke="#aaa" stroke-width="0.8"/>
<line x1="606.60" y1="439.30" x2="606.60" y2="516.20" stroke="#999" stroke-width="0.8" />
<line x1="604.80" y1="516.20" x2="606.60" y2="516.20" stroke="#555" stroke-width="0.9" />
<line x1="604.80" y1="501.52" x2="606.60" y2="501.52" stroke="#555" stroke-width="0.9" />
<line x1="604.80" y1="486.84" x2="606.60" y2="486.84" stroke="#555" stroke-width="0.9" />
<line x1="604.80" y1="472.16" x2="606.60" y2="472.16" stroke="#555" stroke-width="0.9" />
<line x1="604.80" y1="457.48" x2="606.60" y2="457.48" stroke="#555" stroke-width="0.9" />
<line x1="604.80" y1="442.80" x2="606.60" y2="442.80" stroke="#555" stroke-width="0.9" />
<line x1="605.70" y1="516.20" x2="606.60" y2="516.20" stroke="#888" stroke-width="0.5" />
<line x1="605.70" y1="512.53" x2="606.60" y2="512.53" stroke="#888" stroke-width="0.5" />
<line x1="605.70" y1="508.86" x2="606.60" y2="508.86" stroke="#888" stroke-width="0.5" />
<line x1="605.70" y1="505.19" x2="606.60" y2="505.19" stroke="#888" stroke-width="0.5" />
<line x1="605.70" y1="501.52" x2="606.60" y2="501.52" stroke="#888" stroke-width="0.5" />
<line x1="605.70" y1="497.85" x2="606.60" y2="497.85" stroke="#888" stroke-width="0.5" />
<line x1="605.70" y1="494.18" x2="606.60" y2="494.18" stroke="#888" stroke-width="0.5" />
<line x1="605.70" y1="490.51" x2="606.60" y2="490.51" stroke="#888" stroke-width="0.5" />
<line x1="605.70" y1="486.84" x2="606.60" y2="486.84" stroke="#888" stroke-width="0.5" />
<line x1="605.70" y1="483.17" x2="606.60" y2="483.17" stroke="#888" stroke-width="0.5" />
<line x1="605.70" y1="479.50" x2="606.60" y2="479.50" stroke="#888" stroke-width="0.5" />
<line x1="605.70" y1="475.83" x2="606.60" y2="475.83" stroke="#888" stroke-width="0.5" />
<line x1="605.70" y1="472.16" x2="606.60" y2="472.16" stroke="#888" stroke-width="0.5" />
<line x1="605.70" y1="468.49" x2="606.60" y2="468.49" stroke="#888" stroke-width="0.5" />
<line x1="605.70" y1="464.82" x2="606.60" y2="464.82" stroke="#888" stroke-width="0.5" />
<line x1="605.70" y1="461.15" x2="606.60" y2="461.15" stroke="#888" stroke-width="0.5" />
<line x1="605.70" y1="457.48" x2="606.60" y2="457.48" stroke="#888" stroke-width="0.5" />
<line x1="605.70" y1="453.81" x2="606.60" y2="453.81" stroke="#888" stroke-width="0.5" />
<line x1="605.70" y1="450.14" x2="606.60" y2="450.14" stroke="#888" stroke-width="0.5" />
<line x1="605.70" y1="446.47" x2="606.60" y2="446.47" stroke="#888" stroke-width="0.5" />
<line x1="605.70" y1="442.80" x2="606.60" y2="442.80" stroke="#888" stroke-width="0.5" />
<line x1="616.10" y1="516.20" x2="616.10" y2="518.00" stroke="#555" stroke-width="0.9" />
<text x="616.1" y="524.2" font-size="4.2" text-anchor="middle" fill="#666">0</text>
<line x1="625.60" y1="516.20" x2="625.60" y2="518.00" stroke="#555" stroke-width="0.9" />
<text x="625.6" y="524.2" font-size="4.2" text-anchor="middle" fill="#666">10<tspan baseline-shift="2" font-size="2.9">2</tspan></text>
<line x1="646.40" y1="516.20" x2="646.40" y2="518.00" stroke="#555" stroke-width="0.9" />
<text x="646.4" y="524.2" font-size="4.2" text-anchor="middle" fill="#666">10<tspan baseline-shift="2" font-size="2.9">3</tspan></text>
<line x1="666.30" y1="516.20" x2="666.30" y2="518.00" stroke="#555" stroke-width="0.9" />
<text x="666.3" y="524.2" font-size="4.2" text-anchor="middle" fill="#666">10<tspan baseline-shift="2" font-size="2.9">4</tspan></text>
<line x1="685.40" y1="516.20" x2="685.40" y2="518.00" stroke="#555" stroke-width="0.9" />
<text x="685.4" y="524.2" font-size="4.2" text-anchor="middle" fill="#666">10<tspan baseline-shift="2" font-size="2.9">5</tspan></text>
<polygon points="427.7,516.2 427.7,516.2 428.3,516.2 428.9,516.2 429.5,516.2 430.1,516.2 430.7,516.2 431.3,516.2 431.9,516.2 432.5,516.2 433.1,516.2 433.7,516.2 434.3,516.2 434.9,516.2 435.5,515.8 436.1,513.6 436.7,510.3 437.3,507.4 437.9,504.2 438.5,500.1 439.1,493.8 439.7,485.1 440.3,475.9 440.9,468.0 441.5,460.6 442.1,454.4 442.7,453.2 443.3,453.0 443.9,448.0 444.5,443.4 445.1,445.2 445.7,449.7 446.3,452.6 446.9,456.0 447.5,459.8 448.1,464.1 448.7,470.6 449.3,473.9 449.9,476.3 450.5,480.4 451.1,483.1 451.7,484.4 452.3,486.8 452.9,489.0 453.5,488.4 454.1,488.9 454.7,491.1 455.3,491.1 455.9,491.6 456.5,491.9 457.1,490.4 457.7,491.9 458.3,494.6 458.9,494.2 459.5,493.5 460.1,493.7 460.7,493.4 461.3,493.0 461.9,491.7 462.5,491.1 463.1,492.0 463.7,492.0 464.3,491.3 464.9,490.9 465.5,490.9 466.1,489.6 466.7,486.7 467.3,483.5 467.9,482.8 468.5,484.3 469.1,482.5 469.7,480.2 470.3,480.5 470.9,479.0 471.5,475.9 472.1,473.6 472.7,474.1 473.3,476.1 473.9,477.3 474.5,477.9 475.1,479.8 475.7,484.9 476.3,489.1 476.9,493.1 477.5,498.4 478.1,503.6 478.7,507.1 479.3,509.3 479.9,511.0 480.5,512.4 481.1,513.7 481.7,514.9 482.3,515.8 482.9,516.2 483.5,516.2 484.1,516.2 484.7,516.2 485.3,516.2 485.9,516.2 486.5,516.2 487.1,516.2 487.7,516.2 488.3,516.2 488.9,516.2 489.5,516.2 490.1,516.2 490.7,516.2 491.3,516.2 491.9,516.2 492.5,516.2 493.1,516.2 493.7,516.2 494.3,516.2 494.9,516.2 495.5,516.2 496.1,516.2 496.7,516.2 497.3,516.2 497.9,516.2 498.5,516.2 499.1,516.2 499.7,516.2 500.3,516.2 500.9,516.2 501.5,516.2 502.1,516.2 502.7,516.2 503.3,516.2 503.9,516.2 504.5,516.2 505.1,516.2 505.7,516.2 506.3,516.2 506.9,516.2 507.5,516.2 508.1,516.2 508.7,516.2 509.3,516.2 509.9,516.2 510.5,516.2 511.1,516.2 511.7,516.2 512.3,516.2 512.9,516.2 513.5,516.2 514.1,516.2 514.5,516.2" fill="#c8c8c8" stroke="#999" stroke-width="0.5"/>
<polyline points="427.7,516.2 428.3,516.2 428.9,516.2 429.5,516.2 430.1,516.2 430.7,516.2 431.3,516.2 431.9,516.2 432.5,516.2 433.1,516.2 433.7,516.2 434.3,516.2 434.9,515.9 435.5,513.6 436.1,511.1 436.7,507.9 437.3,502.5 437.9,497.2 438.5,491.9 439.1,484.1 439.7,476.4 440.3,469.5 440.9,461.6 441.5,455.7 442.1,452.6 442.7,449.5 443.3,446.3 443.9,444.5 444.5,444.7 445.1,447.0 445.7,447.5 446.3,446.9 446.9,450.3 447.5,455.7 448.1,461.5 448.7,467.6 449.3,470.9 449.9,473.3 450.5,476.8 451.1,479.8 451.7,480.8 452.3,481.2 452.9,482.8 453.5,485.5 454.1,488.5 454.7,489.7 455.3,488.2 455.9,488.1 456.5,489.5 457.1,489.7 457.7,489.4 458.3,489.6 458.9,490.5 459.5,491.1 460.1,491.2 460.7,491.8 461.3,490.7 461.9,488.9 462.5,487.2 463.1,484.9 463.7,485.1 464.3,487.7 464.9,486.7 465.5,482.7 466.1,480.3 466.7,477.1 467.3,474.7 467.9,475.9 468.5,474.5 469.1,469.2 469.7,465.7 470.3,464.1 470.9,462.4 471.5,463.2 472.1,464.6 472.7,465.4 473.3,468.5 473.9,471.2 474.5,472.5 475.1,475.9 475.7,481.2 476.3,486.8 476.9,492.2 477.5,497.2 478.1,501.2 478.7,504.3 479.3,506.7 479.9,508.3 480.5,509.3 481.1,510.9 481.7,512.8 482.3,513.6 482.9,514.4 483.5,515.4 484.1,516.2 484.7,516.2 485.3,516.2 485.9,516.2 486.5,516.2 487.1,516.2 487.7,516.2 488.3,516.2 488.9,516.2 489.5,516.2 490.1,516.2 490.7,516.2 491.3,516.2 491.9,516.2 492.5,516.2 493.1,516.2 493.7,516.2 494.3,516.2 494.9,516.2 495.5,516.2 496.1,516.2 496.7,516.2 497.3,516.2 497.9,516.2 498.5,516.2 499.1,516.2 499.7,516.2 500.3,516.2 500.9,516.2 501.5,516.2 502.1,516.2 502.7,516.2 503.3,516.2 503.9,516.2 504.5,516.2 505.1,516.2 505.7,516.2 506.3,516.2 506.9,516.2 507.5,516.2 508.1,516.2 508.7,516.2 509.3,516.2 509.9,516.2 510.5,516.2 511.1,516.2 511.7,516.2 512.3,516.2 512.9,516.2 513.5,516.2 514.1,516.2" fill="none" stroke="#333" stroke-width="0.8" stroke-dasharray="1.8,1.4"/>
<polyline points="427.7,516.2 428.3,516.2 428.9,516.2 429.5,516.2 430.1,516.2 430.7,516.2 431.3,516.2 431.9,516.2 432.5,516.2 433.1,516.2 433.7,516.2 434.3,516.2 434.9,516.2 435.5,516.2 436.1,516.2 436.7,515.4 437.3,514.2 437.9,513.1 438.5,512.1 439.1,510.9 439.7,508.4 440.3,505.5 440.9,503.9 441.5,502.2 442.1,500.1 442.7,498.9 443.3,498.1 443.9,496.3 444.5,493.9 445.1,492.6 445.7,492.4 446.3,490.8 446.9,489.8 447.5,492.5 448.1,495.4 448.7,496.6 449.3,498.0 449.9,499.2 450.5,497.8 451.1,497.1 451.7,499.2 452.3,501.1 452.9,501.6 453.5,501.7 454.1,502.8 454.7,502.4 455.3,501.2 455.9,501.2 456.5,500.1 457.1,499.1 457.7,499.8 458.3,499.2 458.9,498.4 459.5,499.8 460.1,501.5 460.7,501.3 461.3,498.9 461.9,496.0 462.5,496.1 463.1,497.8 463.7,497.9 464.3,496.3 464.9,494.7 465.5,493.9 466.1,492.9 466.7,492.1 467.3,491.8 467.9,490.8 468.5,489.4 469.1,488.0 469.7,485.0 470.3,481.8 470.9,481.1 471.5,481.8 472.1,480.1 472.7,476.2 473.3,474.0 473.9,469.2 474.5,460.5 475.1,455.1 475.7,454.6 476.3,454.0 476.9,450.1 477.5,445.0 478.1,442.4 478.7,442.4 479.3,443.6 479.9,451.0 480.5,455.2 481.1,458.5 481.7,464.0 482.3,469.1 482.9,472.8 483.5,475.7 484.1,476.6 484.7,478.2 485.3,482.6 485.9,487.0 486.5,489.8 487.1,492.6 487.7,495.4 488.3,498.0 488.9,500.9 489.5,501.9 490.1,501.7 490.7,502.9 491.3,504.0 491.9,505.5 492.5,508.2 493.1,509.1 493.7,508.9 494.3,509.5 494.9,510.3 495.5,510.7 496.1,511.8 496.7,513.3 497.3,513.5 497.9,513.1 498.5,513.8 499.1,514.6 499.7,514.3 500.3,514.3 500.9,514.9 501.5,515.7 502.1,516.2 502.7,516.2 503.3,516.2 503.9,516.2 504.5,516.2 505.1,516.2 505.7,516.2 506.3,516.2 506.9,516.2 507.5,516.2 508.1,516.2 508.7,516.2 509.3,516.2 509.9,516.2 510.5,516.2 511.1,516.2 511.7,516.2 512.3,516.2 512.9,516.2 513.5,516.2 514.1,516.2" fill="none" stroke="#777" stroke-width="1.0"/>
<polyline points="427.7,516.2 428.3,516.2 428.9,516.2 429.5,516.2 430.1,516.2 430.7,516.2 431.3,516.2 431.9,516.2 432.5,516.2 433.1,516.2 433.7,516.2 434.3,516.2 434.9,516.2 435.5,516.2 436.1,516.2 436.7,516.2 437.3,516.2 437.9,516.2 438.5,515.9 439.1,515.4 439.7,514.8 440.3,514.4 440.9,514.1 441.5,513.8 442.1,513.2 442.7,512.4 443.3,512.2 443.9,511.9 444.5,510.4 445.1,509.5 445.7,510.0 446.3,510.4 446.9,510.7 447.5,511.1 448.1,511.4 448.7,512.1 449.3,512.5 449.9,512.7 450.5,513.1 451.1,513.4 451.7,513.9 452.3,514.4 452.9,514.2 453.5,513.6 454.1,513.7 454.7,514.0 455.3,513.9 455.9,513.9 456.5,513.6 457.1,513.5 457.7,514.1 458.3,514.6 458.9,514.5 459.5,514.1 460.1,513.5 460.7,513.4 461.3,513.9 461.9,514.2 462.5,513.6 463.1,513.5 463.7,514.0 464.3,513.8 464.9,513.4 465.5,513.2 466.1,513.3 466.7,513.5 467.3,513.6 467.9,513.0 468.5,511.9 469.1,511.7 469.7,512.1 470.3,512.5 470.9,512.3 471.5,511.2 472.1,510.1 472.7,509.3 473.3,508.8 473.9,508.2 474.5,507.0 475.1,505.3 475.7,503.1 476.3,501.6 476.9,501.5 477.5,500.5 478.1,497.9 478.7,495.2 479.3,492.1 479.9,488.3 480.5,484.1 481.1,478.7 481.7,473.0 482.3,467.4 482.9,462.6 483.5,458.8 484.1,454.1 484.7,449.4 485.3,446.3 485.9,443.6 486.5,443.7 487.1,445.6 487.7,447.0 488.3,449.7 488.9,452.6 489.5,458.5 490.1,465.2 490.7,469.2 491.3,474.0 491.9,480.4 492.5,486.3 493.1,492.1 493.7,497.0 494.3,500.4 494.9,503.3 495.5,506.0 496.1,508.3 496.7,509.7 497.3,511.1 497.9,512.5 498.5,513.3 499.1,514.1 499.7,514.8 500.3,515.0 500.9,515.2 501.5,515.6 502.1,516.2 502.7,516.2 503.3,516.2 503.9,516.2 504.5,516.2 505.1,516.2 505.7,516.2 506.3,516.2 506.9,516.2 507.5,516.2 508.1,516.2 508.7,516.2 509.3,516.2 509.9,516.2 510.5,516.2 511.1,516.2 511.7,516.2 512.3,516.2 512.9,516.2 513.5,516.2 514.1,516.2" fill="none" stroke="#000" stroke-width="1.6"/>
<line x1="427.20" y1="516.20" x2="515.00" y2="516.20" stroke="#222" stroke-width="1.0" />
<polygon points="517.1,516.2 517.1,516.2 517.7,516.2 518.3,516.2 518.9,516.2 519.5,516.2 520.1,516.2 520.7,516.2 521.3,516.2 521.9,516.2 522.5,516.2 523.1,516.2 523.7,516.2 524.3,516.2 524.9,515.4 525.5,512.0 526.1,507.3 526.7,502.6 527.3,495.1 527.9,485.6 528.5,478.4 529.1,470.4 529.7,459.1 530.3,451.0 530.9,448.5 531.5,447.6 532.1,446.1 532.7,447.1 533.3,452.3 533.9,457.2 534.5,459.1 535.1,460.1 535.7,464.2 536.3,468.7 536.9,470.2 537.5,473.2 538.1,477.7 538.7,477.1 539.3,475.3 539.9,475.3 540.5,475.7 541.1,478.1 541.7,481.4 542.3,483.5 542.9,485.6 543.5,488.8 544.1,490.6 544.7,490.8 545.3,492.6 545.9,496.7 546.5,499.8 547.1,501.1 547.7,502.7 548.3,504.9 548.9,507.2 549.5,509.6 550.1,511.3 550.7,512.0 551.3,512.5 551.9,513.8 552.5,515.4 553.1,516.0 553.7,516.2 554.3,516.2 554.9,516.2 555.5,516.2 556.1,516.2 556.7,516.2 557.3,516.2 557.9,516.2 558.5,516.2 559.1,516.2 559.7,516.2 560.3,516.2 560.9,516.2 561.5,516.2 562.1,516.2 562.7,516.2 563.3,516.2 563.9,516.2 564.5,516.2 565.1,516.2 565.7,516.2 566.3,516.2 566.9,516.2 567.5,516.2 568.1,516.2 568.7,516.2 569.3,516.2 569.9,516.2 570.5,516.2 571.1,516.2 571.7,516.2 572.3,516.2 572.9,516.2 573.5,516.2 574.1,516.2 574.7,516.2 575.3,516.2 575.9,516.2 576.5,516.2 577.1,516.2 577.7,516.2 578.3,516.2 578.9,516.2 579.5,516.2 580.1,516.2 580.7,516.2 581.3,516.2 581.9,516.2 582.5,516.2 583.1,516.2 583.7,516.2 584.3,516.2 584.9,516.2 585.5,516.2 586.1,516.2 586.7,516.2 587.3,516.2 587.9,516.2 588.5,516.2 589.1,516.2 589.7,516.2 590.3,516.2 590.9,516.2 591.5,516.2 592.1,516.2 592.7,516.2 593.3,516.2 593.9,516.2 594.5,516.2 595.1,516.2 595.7,516.2 596.3,516.2 596.9,516.2 597.5,516.2 598.1,516.2 598.7,516.2 599.3,516.2 599.9,516.2 600.5,516.2 601.1,516.2 601.7,516.2 602.3,516.2 602.9,516.2 603.5,516.2 604.0,516.2" fill="#c8c8c8" stroke="#999" stroke-width="0.5"/>
<polyline points="517.1,516.2 517.7,516.2 518.3,516.2 518.9,516.2 519.5,516.2 520.1,516.2 520.7,516.2 521.3,516.2 521.9,516.2 522.5,516.2 523.1,516.2 523.7,516.2 524.3,516.2 524.9,516.2 525.5,515.5 526.1,513.1 526.7,510.2 527.3,506.9 527.9,500.2 528.5,491.6 529.1,485.6 529.7,482.1 530.3,480.2 530.9,477.9 531.5,474.4 532.1,472.8 532.7,472.7 533.3,472.7 533.9,473.2 534.5,474.0 535.1,474.9 535.7,475.4 536.3,472.5 536.9,469.1 537.5,470.1 538.1,470.5 538.7,468.0 539.3,467.2 539.9,467.9 540.5,465.7 541.1,462.1 541.7,460.9 542.3,458.9 542.9,457.0 543.5,457.5 544.1,457.1 544.7,454.2 545.3,452.7 545.9,454.7 546.5,454.1 547.1,450.2 547.7,446.7 548.3,443.7 548.9,444.1 549.5,445.9 550.1,444.4 550.7,443.7 551.3,443.9 551.9,443.5 552.5,447.2 553.1,450.6 553.7,451.3 554.3,454.4 554.9,457.4 555.5,460.1 556.1,464.7 556.7,470.6 557.3,478.6 557.9,485.8 558.5,489.9 559.1,493.2 559.7,495.7 560.3,497.4 560.9,500.8 561.5,503.3 562.1,503.5 562.7,504.4 563.3,505.7 563.9,506.7 564.5,507.7 565.1,508.5 565.7,509.1 566.3,510.0 566.9,511.0 567.5,512.1 568.1,513.1 568.7,513.5 569.3,513.6 569.9,514.1 570.5,514.4 571.1,514.4 571.7,515.0 572.3,515.8 572.9,516.2 573.5,516.2 574.1,516.2 574.7,516.2 575.3,516.2 575.9,516.2 576.5,516.2 577.1,516.2 577.7,516.2 578.3,516.2 578.9,516.2 579.5,516.2 580.1,516.2 580.7,516.2 581.3,516.2 581.9,516.2 582.5,516.2 583.1,516.2 583.7,516.2 584.3,516.2 584.9,516.2 585.5,516.2 586.1,516.2 586.7,516.2 587.3,516.2 587.9,516.2 588.5,516.2 589.1,516.2 589.7,516.2 590.3,516.2 590.9,516.2 591.5,516.2 592.1,516.2 592.7,516.2 593.3,516.2 593.9,516.2 594.5,516.2 595.1,516.2 595.7,516.2 596.3,516.2 596.9,516.2 597.5,516.2 598.1,516.2 598.7,516.2 599.3,516.2 599.9,516.2 600.5,516.2 601.1,516.2 601.7,516.2 602.3,516.2 602.9,516.2 603.5,516.2" fill="none" stroke="#333" stroke-width="0.8" stroke-dasharray="1.8,1.4"/>
<polyline points="517.1,516.2 517.7,516.2 518.3,516.2 518.9,516.2 519.5,516.2 520.1,516.2 520.7,516.2 521.3,516.2 521.9,516.2 522.5,516.2 523.1,516.2 523.7,516.2 524.3,516.2 524.9,516.2 525.5,516.2 526.1,516.2 526.7,515.7 527.3,515.0 527.9,514.1 528.5,513.4 529.1,512.9 529.7,512.5 530.3,511.2 530.9,510.2 531.5,510.3 532.1,509.7 532.7,509.0 533.3,509.1 533.9,508.9 534.5,508.1 535.1,506.1 535.7,504.1 536.3,504.5 536.9,505.7 537.5,505.7 538.1,505.4 538.7,504.4 539.3,503.5 539.9,503.4 540.5,502.0 541.1,500.1 541.7,498.7 542.3,498.5 542.9,498.5 543.5,496.4 544.1,494.3 544.7,493.4 545.3,492.6 545.9,493.4 546.5,492.6 547.1,487.7 547.7,483.0 548.3,479.9 548.9,475.4 549.5,470.7 550.1,468.1 550.7,465.2 551.3,459.1 551.9,454.7 552.5,452.7 553.1,449.4 553.7,449.0 554.3,447.5 554.9,442.6 555.5,443.4 556.1,446.3 556.7,445.1 557.3,442.8 557.9,445.1 558.5,450.5 559.1,454.3 559.7,458.3 560.3,462.7 560.9,465.0 561.5,467.3 562.1,470.2 562.7,471.2 563.3,471.1 563.9,472.3 564.5,474.7 565.1,475.3 565.7,475.3 566.3,477.3 566.9,479.9 567.5,482.9 568.1,485.5 568.7,488.5 569.3,493.0 569.9,496.0 570.5,497.3 571.1,497.6 571.7,500.4 572.3,505.2 572.9,506.6 573.5,506.0 574.1,506.4 574.7,507.7 575.3,509.0 575.9,509.7 576.5,510.4 577.1,511.2 577.7,512.3 578.3,513.5 578.9,513.9 579.5,514.1 580.1,514.5 580.7,515.2 581.3,515.7 581.9,516.2 582.5,516.2 583.1,516.2 583.7,516.2 584.3,516.2 584.9,516.2 585.5,516.2 586.1,516.2 586.7,516.2 587.3,516.2 587.9,516.2 588.5,516.2 589.1,516.2 589.7,516.2 590.3,516.2 590.9,516.2 591.5,516.2 592.1,516.2 592.7,516.2 593.3,516.2 593.9,516.2 594.5,516.2 595.1,516.2 595.7,516.2 596.3,516.2 596.9,516.2 597.5,516.2 598.1,516.2 598.7,516.2 599.3,516.2 599.9,516.2 600.5,516.2 601.1,516.2 601.7,516.2 602.3,516.2 602.9,516.2 603.5,516.2" fill="none" stroke="#777" stroke-width="1.0"/>
<polyline points="517.1,516.2 517.7,516.2 518.3,516.2 518.9,516.2 519.5,516.2 520.1,516.2 520.7,516.2 521.3,516.2 521.9,516.2 522.5,516.2 523.1,516.2 523.7,516.2 524.3,516.2 524.9,516.2 525.5,516.2 526.1,516.2 526.7,516.2 527.3,516.2 527.9,515.2 528.5,514.1 529.1,513.6 529.7,513.5 530.3,513.1 530.9,512.5 531.5,511.9 532.1,511.5 532.7,510.8 533.3,510.6 533.9,511.2 534.5,510.8 535.1,510.1 535.7,510.5 536.3,510.8 536.9,511.0 537.5,511.0 538.1,510.0 538.7,508.8 539.3,509.1 539.9,510.1 540.5,510.0 541.1,509.0 541.7,508.2 542.3,508.3 542.9,507.7 543.5,506.0 544.1,505.1 544.7,504.7 545.3,504.0 545.9,502.3 546.5,500.2 547.1,497.4 547.7,493.3 548.3,489.8 548.9,485.6 549.5,480.6 550.1,478.7 550.7,477.5 551.3,473.1 551.9,469.6 552.5,468.9 553.1,466.6 553.7,464.0 554.3,461.9 554.9,460.6 555.5,462.2 556.1,460.6 556.7,455.8 557.3,452.1 557.9,448.3 558.5,445.3 559.1,443.3 559.7,443.4 560.3,445.4 560.9,446.0 561.5,448.0 562.1,450.9 562.7,454.7 563.3,460.3 563.9,463.7 564.5,465.6 565.1,469.7 565.7,473.3 566.3,474.4 566.9,478.8 567.5,485.7 568.1,488.0 568.7,488.9 569.3,492.6 569.9,496.4 570.5,498.9 571.1,500.8 571.7,502.2 572.3,503.1 572.9,503.8 573.5,505.2 574.1,506.8 574.7,507.8 575.3,508.4 575.9,509.1 576.5,509.4 577.1,509.5 577.7,510.2 578.3,511.0 578.9,511.8 579.5,512.6 580.1,513.3 580.7,513.8 581.3,514.2 581.9,514.7 582.5,515.0 583.1,515.5 583.7,516.0 584.3,516.2 584.9,516.2 585.5,516.2 586.1,516.2 586.7,516.2 587.3,516.2 587.9,516.2 588.5,516.2 589.1,516.2 589.7,516.2 590.3,516.2 590.9,516.2 591.5,516.2 592.1,516.2 592.7,516.2 593.3,516.2 593.9,516.2 594.5,516.2 595.1,516.2 595.7,516.2 596.3,516.2 596.9,516.2 597.5,516.2 598.1,516.2 598.7,516.2 599.3,516.2 599.9,516.2 600.5,516.2 601.1,516.2 601.7,516.2 602.3,516.2 602.9,516.2 603.5,516.2" fill="none" stroke="#000" stroke-width="1.6"/>
<line x1="516.60" y1="516.20" x2="604.50" y2="516.20" stroke="#222" stroke-width="1.0" />
<polygon points="607.1,516.2 607.1,516.2 607.7,516.2 608.3,516.2 608.9,516.2 609.5,516.2 610.1,516.2 610.7,516.2 611.3,516.2 611.9,515.0 612.5,512.8 613.1,509.5 613.7,506.4 614.3,504.2 614.9,501.9 615.5,499.6 616.1,494.4 616.7,488.9 617.3,486.9 617.9,482.4 618.5,476.1 619.1,472.5 619.7,468.7 620.3,463.5 620.9,458.3 621.5,456.1 622.1,455.2 622.7,452.2 623.3,449.8 623.9,448.3 624.5,446.0 625.1,444.5 625.7,445.6 626.3,447.7 626.9,448.6 627.5,450.2 628.1,453.5 628.7,459.0 629.3,466.3 629.9,470.1 630.5,471.8 631.1,474.4 631.7,475.2 632.3,475.6 632.9,477.5 633.5,479.1 634.1,478.3 634.7,475.7 635.3,473.6 635.9,473.6 636.5,475.2 637.1,476.5 637.7,476.3 638.3,475.0 638.9,474.0 639.5,471.9 640.1,470.5 640.7,473.5 641.3,477.0 641.9,479.0 642.5,481.4 643.1,481.8 643.7,481.7 644.3,486.3 644.9,491.4 645.5,492.4 646.1,494.4 646.7,498.8 647.3,502.3 647.9,504.1 648.5,505.4 649.1,506.7 649.7,508.0 650.3,509.6 650.9,511.1 651.5,512.8 652.1,515.0 652.7,516.2 653.3,516.2 653.9,516.2 654.5,516.2 655.1,516.2 655.7,516.2 656.3,516.2 656.9,516.2 657.5,516.2 658.1,516.2 658.7,516.2 659.3,516.2 659.9,516.2 660.5,516.2 661.1,516.2 661.7,516.2 662.3,516.2 662.9,516.2 663.5,516.2 664.1,516.2 664.7,516.2 665.3,516.2 665.9,516.2 666.5,516.2 667.1,516.2 667.7,516.2 668.3,516.2 668.9,516.2 669.5,516.2 670.1,516.2 670.7,516.2 671.3,516.2 671.9,516.2 672.5,516.2 673.1,516.2 673.7,516.2 674.3,516.2 674.9,516.2 675.5,516.2 676.1,516.2 676.7,516.2 677.3,516.2 677.9,516.2 678.5,516.2 679.1,516.2 679.7,516.2 680.3,516.2 680.9,516.2 681.5,516.2 682.1,516.2 682.7,516.2 683.3,516.2 683.9,516.2 684.5,516.2 685.1,516.2 685.7,516.2 686.3,516.2 686.9,516.2 687.5,516.2 688.1,516.2 688.7,516.2 689.3,516.2 689.9,516.2 690.5,516.2 691.1,516.2 691.7,516.2 692.3,516.2 692.9,516.2 693.2,516.2" fill="#c8c8c8" stroke="#999" stroke-width="0.5"/>
<polyline points="607.1,516.2 607.7,516.2 608.3,516.2 608.9,516.2 609.5,516.2 610.1,516.2 610.7,516.2 611.3,514.4 611.9,511.8 612.5,508.0 613.1,504.5 613.7,501.0 614.3,498.6 614.9,497.2 615.5,492.4 616.1,485.4 616.7,479.4 617.3,475.4 617.9,472.9 618.5,468.9 619.1,461.5 619.7,456.4 620.3,456.1 620.9,456.4 621.5,454.3 622.1,447.1 622.7,442.4 623.3,442.4 623.9,442.4 624.5,442.4 625.1,442.9 625.7,442.8 626.3,445.5 626.9,446.8 627.5,446.3 628.1,448.3 628.7,452.4 629.3,457.5 629.9,464.2 630.5,468.8 631.1,470.3 631.7,472.8 632.3,475.8 632.9,476.8 633.5,477.6 634.1,479.3 634.7,480.1 635.3,479.1 635.9,476.7 636.5,474.2 637.1,474.5 637.7,478.1 638.3,478.5 638.9,476.8 639.5,477.6 640.1,477.5 640.7,476.6 641.3,479.2 641.9,482.4 642.5,482.7 643.1,481.3 643.7,482.3 644.3,485.4 644.9,486.2 645.5,485.3 646.1,486.4 646.7,488.5 647.3,489.2 647.9,491.4 648.5,494.8 649.1,495.5 649.7,496.0 650.3,498.9 650.9,501.4 651.5,501.3 652.1,500.5 652.7,502.3 653.3,504.3 653.9,504.7 654.5,506.1 655.1,506.9 655.7,507.1 656.3,508.5 656.9,510.3 657.5,511.5 658.1,512.1 658.7,513.5 659.3,514.2 659.9,513.9 660.5,514.6 661.1,515.6 661.7,516.2 662.3,516.2 662.9,516.2 663.5,516.2 664.1,516.2 664.7,516.2 665.3,516.2 665.9,516.2 666.5,516.2 667.1,516.2 667.7,516.2 668.3,516.2 668.9,516.2 669.5,516.2 670.1,516.2 670.7,516.2 671.3,516.2 671.9,516.2 672.5,516.2 673.1,516.2 673.7,516.2 674.3,516.2 674.9,516.2 675.5,516.2 676.1,516.2 676.7,516.2 677.3,516.2 677.9,516.2 678.5,516.2 679.1,516.2 679.7,516.2 680.3,516.2 680.9,516.2 681.5,516.2 682.1,516.2 682.7,516.2 683.3,516.2 683.9,516.2 684.5,516.2 685.1,516.2 685.7,516.2 686.3,516.2 686.9,516.2 687.5,516.2 688.1,516.2 688.7,516.2 689.3,516.2 689.9,516.2 690.5,516.2 691.1,516.2 691.7,516.2 692.3,516.2 692.9,516.2" fill="none" stroke="#333" stroke-width="0.8" stroke-dasharray="1.8,1.4"/>
<polyline points="607.1,516.2 607.7,516.2 608.3,516.2 608.9,516.2 609.5,516.2 610.1,516.2 610.7,516.2 611.3,516.2 611.9,516.2 612.5,515.6 613.1,515.1 613.7,513.9 614.3,512.1 614.9,511.0 615.5,510.4 616.1,508.4 616.7,505.5 617.3,502.8 617.9,500.5 618.5,497.8 619.1,495.2 619.7,494.6 620.3,494.4 620.9,494.1 621.5,491.0 622.1,486.4 622.7,484.8 623.3,482.8 623.9,481.7 624.5,481.7 625.1,479.9 625.7,478.2 626.3,476.5 626.9,474.6 627.5,475.5 628.1,479.0 628.7,480.7 629.3,480.4 629.9,480.4 630.5,479.0 631.1,478.4 631.7,481.7 632.3,485.3 632.9,487.5 633.5,489.3 634.1,490.5 634.7,490.6 635.3,489.9 635.9,488.5 636.5,487.4 637.1,487.7 637.7,488.6 638.3,487.1 638.9,482.6 639.5,478.4 640.1,475.0 640.7,470.9 641.3,467.1 641.9,463.9 642.5,457.1 643.1,451.2 643.7,450.5 644.3,445.1 644.9,442.4 645.5,442.4 646.1,442.4 646.7,442.5 647.3,447.2 647.9,451.4 648.5,456.5 649.1,461.1 649.7,464.4 650.3,467.7 650.9,470.9 651.5,476.0 652.1,480.2 652.7,480.8 653.3,483.2 653.9,488.1 654.5,492.3 655.1,494.5 655.7,495.9 656.3,499.1 656.9,502.3 657.5,501.8 658.1,502.9 658.7,506.6 659.3,507.8 659.9,508.6 660.5,509.8 661.1,510.8 661.7,512.3 662.3,512.8 662.9,513.4 663.5,514.8 664.1,515.8 664.7,516.2 665.3,516.2 665.9,516.2 666.5,516.2 667.1,516.2 667.7,516.2 668.3,516.2 668.9,516.2 669.5,516.2 670.1,516.2 670.7,516.2 671.3,516.2 671.9,516.2 672.5,516.2 673.1,516.2 673.7,516.2 674.3,516.2 674.9,516.2 675.5,516.2 676.1,516.2 676.7,516.2 677.3,516.2 677.9,516.2 678.5,516.2 679.1,516.2 679.7,516.2 680.3,516.2 680.9,516.2 681.5,516.2 682.1,516.2 682.7,516.2 683.3,516.2 683.9,516.2 684.5,516.2 685.1,516.2 685.7,516.2 686.3,516.2 686.9,516.2 687.5,516.2 688.1,516.2 688.7,516.2 689.3,516.2 689.9,516.2 690.5,516.2 691.1,516.2 691.7,516.2 692.3,516.2 692.9,516.2" fill="none" stroke="#777" stroke-width="1.0"/>
<polyline points="607.1,516.2 607.7,516.2 608.3,516.2 608.9,516.2 609.5,516.2 610.1,516.2 610.7,516.2 611.3,516.2 611.9,516.2 612.5,516.2 613.1,516.2 613.7,516.2 614.3,515.7 614.9,515.2 615.5,514.7 616.1,514.0 616.7,513.0 617.3,512.6 617.9,511.9 618.5,510.7 619.1,510.2 619.7,509.6 620.3,508.2 620.9,507.7 621.5,508.3 622.1,508.1 622.7,507.4 623.3,507.1 623.9,506.6 624.5,506.0 625.1,505.6 625.7,505.6 626.3,505.3 626.9,505.1 627.5,505.5 628.1,504.8 628.7,504.2 629.3,505.4 629.9,506.9 630.5,507.6 631.1,507.9 631.7,507.5 632.3,507.5 632.9,508.3 633.5,508.1 634.1,507.7 634.7,508.0 635.3,508.3 635.9,508.6 636.5,508.5 637.1,507.3 637.7,505.5 638.3,504.9 638.9,504.0 639.5,501.5 640.1,497.2 640.7,492.1 641.3,486.6 641.9,480.2 642.5,474.6 643.1,469.1 643.7,463.6 644.3,459.5 644.9,456.3 645.5,451.5 646.1,446.4 646.7,445.4 647.3,446.0 647.9,445.0 648.5,446.8 649.1,450.3 649.7,454.2 650.3,458.9 650.9,464.5 651.5,470.7 652.1,475.0 652.7,477.7 653.3,481.3 653.9,485.6 654.5,489.4 655.1,492.0 655.7,493.2 656.3,494.8 656.9,496.7 657.5,496.9 658.1,497.9 658.7,499.5 659.3,500.7 659.9,502.8 660.5,504.5 661.1,504.7 661.7,504.8 662.3,505.4 662.9,506.2 663.5,507.5 664.1,508.8 664.7,509.6 665.3,510.7 665.9,511.6 666.5,512.3 667.1,513.3 667.7,514.1 668.3,514.5 668.9,514.7 669.5,515.1 670.1,515.7 670.7,516.2 671.3,516.2 671.9,516.2 672.5,516.2 673.1,516.2 673.7,516.2 674.3,516.2 674.9,516.2 675.5,516.2 676.1,516.2 676.7,516.2 677.3,516.2 677.9,516.2 678.5,516.2 679.1,516.2 679.7,516.2 680.3,516.2 680.9,516.2 681.5,516.2 682.1,516.2 682.7,516.2 683.3,516.2 683.9,516.2 684.5,516.2 685.1,516.2 685.7,516.2 686.3,516.2 686.9,516.2 687.5,516.2 688.1,516.2 688.7,516.2 689.3,516.2 689.9,516.2 690.5,516.2 691.1,516.2 691.7,516.2 692.3,516.2 692.9,516.2" fill="none" stroke="#000" stroke-width="1.6"/>
<line x1="606.60" y1="516.20" x2="693.70" y2="516.20" stroke="#222" stroke-width="1.0" />
<text x="470.5" y="540.2" font-size="12.6" text-anchor="middle" fill="#000" stroke="#000" stroke-width="0.3">PD-L1</text>
<text x="565.3" y="540.2" font-size="12.6" text-anchor="middle" fill="#000" stroke="#000" stroke-width="0.3">CD200</text>
<text x="650.5" y="540.2" font-size="12.6" text-anchor="middle" fill="#000" stroke="#000" stroke-width="0.3">CD40</text>
<text x="711.9" y="451.9" font-size="12.2" fill="#000" stroke="#000" stroke-width="0.3">OVA<tspan baseline-shift="-2.5" font-size="8.6">257-264</tspan></text>
<text x="741.3" y="466.8" font-size="12.2" text-anchor="middle" fill="#000" stroke="#000" stroke-width="0.3">(pg/ml)</text>
<rect x="707.70" y="478.50" width="27.20" height="8.90" fill="#c4c4c4"/>
<line x1="707.70" y1="498.40" x2="734.90" y2="498.40" stroke="#444" stroke-width="1.1" stroke-dasharray="3,2"/>
<line x1="707.70" y1="513.80" x2="734.90" y2="513.80" stroke="#888" stroke-width="1.3" />
<line x1="707.70" y1="529.60" x2="734.90" y2="529.60" stroke="#000" stroke-width="2.6" />
<text x="753.6" y="486.9" font-size="11.3" text-anchor="middle" fill="#000" stroke="#000" stroke-width="0.3">0</text>
<text x="753.6" y="502.1" font-size="11.3" text-anchor="middle" fill="#000" stroke="#000" stroke-width="0.3">0.1</text>
<text x="753.6" y="517.9" font-size="11.3" text-anchor="middle" fill="#000" stroke="#000" stroke-width="0.3">1</text>
<text x="753.6" y="533.8" font-size="11.3" text-anchor="middle" fill="#000" stroke="#000" stroke-width="0.3">10</text>
</svg>
</body></html>
